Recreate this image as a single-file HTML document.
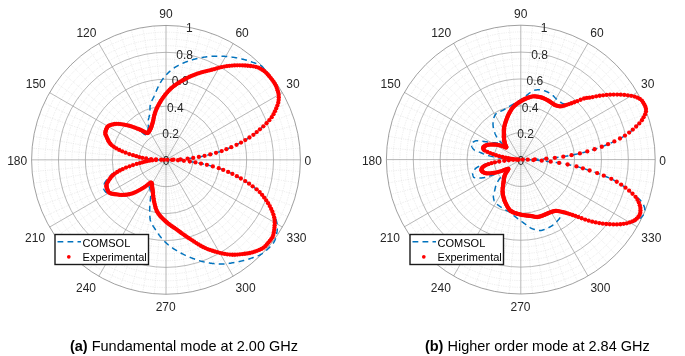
<!DOCTYPE html>
<html><head><meta charset="utf-8"><style>
html,body{margin:0;padding:0;background:#fff;}
svg{display:block;}
text{filter:grayscale(1);}
.mn{fill:none;stroke:#d8d8d8;stroke-width:0.7;stroke-dasharray:0.6 1.2;}
.mj{fill:none;stroke:#9a9a9a;stroke-width:0.7;}
.ax{fill:none;stroke:#808080;stroke-width:0.75;}
.tl{font-family:"Liberation Sans",sans-serif;font-size:12px;fill:#262626;text-anchor:middle;}
.lt{font-family:"Liberation Sans",sans-serif;font-size:11px;fill:#000;}
.bl{fill:none;stroke:#0072bd;stroke-width:1.5;stroke-dasharray:5.8 4.2;}
.rd circle{fill:#ff0000;}
.lg{fill:#fff;stroke:#1a1a1a;stroke-width:1.4;}
.cap{font-family:"Liberation Sans",sans-serif;font-size:14.5px;fill:#000;}
</style></head><body>
<svg width="685" height="356" viewBox="0 0 685 356">
<rect width="685" height="356" fill="#fff"/>
<circle cx="166" cy="159.85" r="6.72" class="mn"/>
<circle cx="166" cy="159.85" r="13.44" class="mn"/>
<circle cx="166" cy="159.85" r="20.16" class="mn"/>
<circle cx="166" cy="159.85" r="33.6" class="mn"/>
<circle cx="166" cy="159.85" r="40.32" class="mn"/>
<circle cx="166" cy="159.85" r="47.04" class="mn"/>
<circle cx="166" cy="159.85" r="60.48" class="mn"/>
<circle cx="166" cy="159.85" r="67.2" class="mn"/>
<circle cx="166" cy="159.85" r="73.92" class="mn"/>
<circle cx="166" cy="159.85" r="87.36" class="mn"/>
<circle cx="166" cy="159.85" r="94.08" class="mn"/>
<circle cx="166" cy="159.85" r="100.8" class="mn"/>
<circle cx="166" cy="159.85" r="114.24" class="mn"/>
<circle cx="166" cy="159.85" r="120.96" class="mn"/>
<circle cx="166" cy="159.85" r="127.68" class="mn"/>
<line x1="166" y1="159.85" x2="299.89" y2="148.14" class="mn"/>
<line x1="166" y1="159.85" x2="298.36" y2="136.51" class="mn"/>
<line x1="166" y1="159.85" x2="295.82" y2="125.06" class="mn"/>
<line x1="166" y1="159.85" x2="292.29" y2="113.88" class="mn"/>
<line x1="166" y1="159.85" x2="287.81" y2="103.05" class="mn"/>
<line x1="166" y1="159.85" x2="276.09" y2="82.76" class="mn"/>
<line x1="166" y1="159.85" x2="268.96" y2="73.46" class="mn"/>
<line x1="166" y1="159.85" x2="261.04" y2="64.81" class="mn"/>
<line x1="166" y1="159.85" x2="252.39" y2="56.89" class="mn"/>
<line x1="166" y1="159.85" x2="243.09" y2="49.76" class="mn"/>
<line x1="166" y1="159.85" x2="222.8" y2="38.04" class="mn"/>
<line x1="166" y1="159.85" x2="211.97" y2="33.56" class="mn"/>
<line x1="166" y1="159.85" x2="200.79" y2="30.03" class="mn"/>
<line x1="166" y1="159.85" x2="189.34" y2="27.49" class="mn"/>
<line x1="166" y1="159.85" x2="177.71" y2="25.96" class="mn"/>
<line x1="166" y1="159.85" x2="154.29" y2="25.96" class="mn"/>
<line x1="166" y1="159.85" x2="142.66" y2="27.49" class="mn"/>
<line x1="166" y1="159.85" x2="131.21" y2="30.03" class="mn"/>
<line x1="166" y1="159.85" x2="120.03" y2="33.56" class="mn"/>
<line x1="166" y1="159.85" x2="109.2" y2="38.04" class="mn"/>
<line x1="166" y1="159.85" x2="88.91" y2="49.76" class="mn"/>
<line x1="166" y1="159.85" x2="79.61" y2="56.89" class="mn"/>
<line x1="166" y1="159.85" x2="70.96" y2="64.81" class="mn"/>
<line x1="166" y1="159.85" x2="63.04" y2="73.46" class="mn"/>
<line x1="166" y1="159.85" x2="55.91" y2="82.76" class="mn"/>
<line x1="166" y1="159.85" x2="44.19" y2="103.05" class="mn"/>
<line x1="166" y1="159.85" x2="39.71" y2="113.88" class="mn"/>
<line x1="166" y1="159.85" x2="36.18" y2="125.06" class="mn"/>
<line x1="166" y1="159.85" x2="33.64" y2="136.51" class="mn"/>
<line x1="166" y1="159.85" x2="32.11" y2="148.14" class="mn"/>
<line x1="166" y1="159.85" x2="32.11" y2="171.56" class="mn"/>
<line x1="166" y1="159.85" x2="33.64" y2="183.19" class="mn"/>
<line x1="166" y1="159.85" x2="36.18" y2="194.64" class="mn"/>
<line x1="166" y1="159.85" x2="39.71" y2="205.82" class="mn"/>
<line x1="166" y1="159.85" x2="44.19" y2="216.65" class="mn"/>
<line x1="166" y1="159.85" x2="55.91" y2="236.94" class="mn"/>
<line x1="166" y1="159.85" x2="63.04" y2="246.24" class="mn"/>
<line x1="166" y1="159.85" x2="70.96" y2="254.89" class="mn"/>
<line x1="166" y1="159.85" x2="79.61" y2="262.81" class="mn"/>
<line x1="166" y1="159.85" x2="88.91" y2="269.94" class="mn"/>
<line x1="166" y1="159.85" x2="109.2" y2="281.66" class="mn"/>
<line x1="166" y1="159.85" x2="120.03" y2="286.14" class="mn"/>
<line x1="166" y1="159.85" x2="131.21" y2="289.67" class="mn"/>
<line x1="166" y1="159.85" x2="142.66" y2="292.21" class="mn"/>
<line x1="166" y1="159.85" x2="154.29" y2="293.74" class="mn"/>
<line x1="166" y1="159.85" x2="177.71" y2="293.74" class="mn"/>
<line x1="166" y1="159.85" x2="189.34" y2="292.21" class="mn"/>
<line x1="166" y1="159.85" x2="200.79" y2="289.67" class="mn"/>
<line x1="166" y1="159.85" x2="211.97" y2="286.14" class="mn"/>
<line x1="166" y1="159.85" x2="222.8" y2="281.66" class="mn"/>
<line x1="166" y1="159.85" x2="243.09" y2="269.94" class="mn"/>
<line x1="166" y1="159.85" x2="252.39" y2="262.81" class="mn"/>
<line x1="166" y1="159.85" x2="261.04" y2="254.89" class="mn"/>
<line x1="166" y1="159.85" x2="268.96" y2="246.24" class="mn"/>
<line x1="166" y1="159.85" x2="276.09" y2="236.94" class="mn"/>
<line x1="166" y1="159.85" x2="287.81" y2="216.65" class="mn"/>
<line x1="166" y1="159.85" x2="292.29" y2="205.82" class="mn"/>
<line x1="166" y1="159.85" x2="295.82" y2="194.64" class="mn"/>
<line x1="166" y1="159.85" x2="298.36" y2="183.19" class="mn"/>
<line x1="166" y1="159.85" x2="299.89" y2="171.56" class="mn"/>
<circle cx="166" cy="159.85" r="26.88" class="mj"/>
<circle cx="166" cy="159.85" r="53.76" class="mj"/>
<circle cx="166" cy="159.85" r="80.64" class="mj"/>
<circle cx="166" cy="159.85" r="107.52" class="mj"/>
<line x1="166" y1="159.85" x2="300.4" y2="159.85" class="mj"/>
<line x1="166" y1="159.85" x2="282.39" y2="92.65" class="mj"/>
<line x1="166" y1="159.85" x2="233.2" y2="43.46" class="mj"/>
<line x1="166" y1="159.85" x2="166" y2="25.45" class="mj"/>
<line x1="166" y1="159.85" x2="98.8" y2="43.46" class="mj"/>
<line x1="166" y1="159.85" x2="49.61" y2="92.65" class="mj"/>
<line x1="166" y1="159.85" x2="31.6" y2="159.85" class="mj"/>
<line x1="166" y1="159.85" x2="49.61" y2="227.05" class="mj"/>
<line x1="166" y1="159.85" x2="98.8" y2="276.24" class="mj"/>
<line x1="166" y1="159.85" x2="166" y2="294.25" class="mj"/>
<line x1="166" y1="159.85" x2="233.2" y2="276.24" class="mj"/>
<line x1="166" y1="159.85" x2="282.39" y2="227.05" class="mj"/>
<circle cx="166" cy="159.85" r="134.4" class="ax"/>
<circle cx="520.8" cy="159.6" r="6.72" class="mn"/>
<circle cx="520.8" cy="159.6" r="13.44" class="mn"/>
<circle cx="520.8" cy="159.6" r="20.16" class="mn"/>
<circle cx="520.8" cy="159.6" r="33.6" class="mn"/>
<circle cx="520.8" cy="159.6" r="40.32" class="mn"/>
<circle cx="520.8" cy="159.6" r="47.04" class="mn"/>
<circle cx="520.8" cy="159.6" r="60.48" class="mn"/>
<circle cx="520.8" cy="159.6" r="67.2" class="mn"/>
<circle cx="520.8" cy="159.6" r="73.92" class="mn"/>
<circle cx="520.8" cy="159.6" r="87.36" class="mn"/>
<circle cx="520.8" cy="159.6" r="94.08" class="mn"/>
<circle cx="520.8" cy="159.6" r="100.8" class="mn"/>
<circle cx="520.8" cy="159.6" r="114.24" class="mn"/>
<circle cx="520.8" cy="159.6" r="120.96" class="mn"/>
<circle cx="520.8" cy="159.6" r="127.68" class="mn"/>
<line x1="520.8" y1="159.6" x2="654.69" y2="147.89" class="mn"/>
<line x1="520.8" y1="159.6" x2="653.16" y2="136.26" class="mn"/>
<line x1="520.8" y1="159.6" x2="650.62" y2="124.81" class="mn"/>
<line x1="520.8" y1="159.6" x2="647.09" y2="113.63" class="mn"/>
<line x1="520.8" y1="159.6" x2="642.61" y2="102.8" class="mn"/>
<line x1="520.8" y1="159.6" x2="630.89" y2="82.51" class="mn"/>
<line x1="520.8" y1="159.6" x2="623.76" y2="73.21" class="mn"/>
<line x1="520.8" y1="159.6" x2="615.84" y2="64.56" class="mn"/>
<line x1="520.8" y1="159.6" x2="607.19" y2="56.64" class="mn"/>
<line x1="520.8" y1="159.6" x2="597.89" y2="49.51" class="mn"/>
<line x1="520.8" y1="159.6" x2="577.6" y2="37.79" class="mn"/>
<line x1="520.8" y1="159.6" x2="566.77" y2="33.31" class="mn"/>
<line x1="520.8" y1="159.6" x2="555.59" y2="29.78" class="mn"/>
<line x1="520.8" y1="159.6" x2="544.14" y2="27.24" class="mn"/>
<line x1="520.8" y1="159.6" x2="532.51" y2="25.71" class="mn"/>
<line x1="520.8" y1="159.6" x2="509.09" y2="25.71" class="mn"/>
<line x1="520.8" y1="159.6" x2="497.46" y2="27.24" class="mn"/>
<line x1="520.8" y1="159.6" x2="486.01" y2="29.78" class="mn"/>
<line x1="520.8" y1="159.6" x2="474.83" y2="33.31" class="mn"/>
<line x1="520.8" y1="159.6" x2="464" y2="37.79" class="mn"/>
<line x1="520.8" y1="159.6" x2="443.71" y2="49.51" class="mn"/>
<line x1="520.8" y1="159.6" x2="434.41" y2="56.64" class="mn"/>
<line x1="520.8" y1="159.6" x2="425.76" y2="64.56" class="mn"/>
<line x1="520.8" y1="159.6" x2="417.84" y2="73.21" class="mn"/>
<line x1="520.8" y1="159.6" x2="410.71" y2="82.51" class="mn"/>
<line x1="520.8" y1="159.6" x2="398.99" y2="102.8" class="mn"/>
<line x1="520.8" y1="159.6" x2="394.51" y2="113.63" class="mn"/>
<line x1="520.8" y1="159.6" x2="390.98" y2="124.81" class="mn"/>
<line x1="520.8" y1="159.6" x2="388.44" y2="136.26" class="mn"/>
<line x1="520.8" y1="159.6" x2="386.91" y2="147.89" class="mn"/>
<line x1="520.8" y1="159.6" x2="386.91" y2="171.31" class="mn"/>
<line x1="520.8" y1="159.6" x2="388.44" y2="182.94" class="mn"/>
<line x1="520.8" y1="159.6" x2="390.98" y2="194.39" class="mn"/>
<line x1="520.8" y1="159.6" x2="394.51" y2="205.57" class="mn"/>
<line x1="520.8" y1="159.6" x2="398.99" y2="216.4" class="mn"/>
<line x1="520.8" y1="159.6" x2="410.71" y2="236.69" class="mn"/>
<line x1="520.8" y1="159.6" x2="417.84" y2="245.99" class="mn"/>
<line x1="520.8" y1="159.6" x2="425.76" y2="254.64" class="mn"/>
<line x1="520.8" y1="159.6" x2="434.41" y2="262.56" class="mn"/>
<line x1="520.8" y1="159.6" x2="443.71" y2="269.69" class="mn"/>
<line x1="520.8" y1="159.6" x2="464" y2="281.41" class="mn"/>
<line x1="520.8" y1="159.6" x2="474.83" y2="285.89" class="mn"/>
<line x1="520.8" y1="159.6" x2="486.01" y2="289.42" class="mn"/>
<line x1="520.8" y1="159.6" x2="497.46" y2="291.96" class="mn"/>
<line x1="520.8" y1="159.6" x2="509.09" y2="293.49" class="mn"/>
<line x1="520.8" y1="159.6" x2="532.51" y2="293.49" class="mn"/>
<line x1="520.8" y1="159.6" x2="544.14" y2="291.96" class="mn"/>
<line x1="520.8" y1="159.6" x2="555.59" y2="289.42" class="mn"/>
<line x1="520.8" y1="159.6" x2="566.77" y2="285.89" class="mn"/>
<line x1="520.8" y1="159.6" x2="577.6" y2="281.41" class="mn"/>
<line x1="520.8" y1="159.6" x2="597.89" y2="269.69" class="mn"/>
<line x1="520.8" y1="159.6" x2="607.19" y2="262.56" class="mn"/>
<line x1="520.8" y1="159.6" x2="615.84" y2="254.64" class="mn"/>
<line x1="520.8" y1="159.6" x2="623.76" y2="245.99" class="mn"/>
<line x1="520.8" y1="159.6" x2="630.89" y2="236.69" class="mn"/>
<line x1="520.8" y1="159.6" x2="642.61" y2="216.4" class="mn"/>
<line x1="520.8" y1="159.6" x2="647.09" y2="205.57" class="mn"/>
<line x1="520.8" y1="159.6" x2="650.62" y2="194.39" class="mn"/>
<line x1="520.8" y1="159.6" x2="653.16" y2="182.94" class="mn"/>
<line x1="520.8" y1="159.6" x2="654.69" y2="171.31" class="mn"/>
<circle cx="520.8" cy="159.6" r="26.88" class="mj"/>
<circle cx="520.8" cy="159.6" r="53.76" class="mj"/>
<circle cx="520.8" cy="159.6" r="80.64" class="mj"/>
<circle cx="520.8" cy="159.6" r="107.52" class="mj"/>
<line x1="520.8" y1="159.6" x2="655.2" y2="159.6" class="mj"/>
<line x1="520.8" y1="159.6" x2="637.19" y2="92.4" class="mj"/>
<line x1="520.8" y1="159.6" x2="588" y2="43.21" class="mj"/>
<line x1="520.8" y1="159.6" x2="520.8" y2="25.2" class="mj"/>
<line x1="520.8" y1="159.6" x2="453.6" y2="43.21" class="mj"/>
<line x1="520.8" y1="159.6" x2="404.41" y2="92.4" class="mj"/>
<line x1="520.8" y1="159.6" x2="386.4" y2="159.6" class="mj"/>
<line x1="520.8" y1="159.6" x2="404.41" y2="226.8" class="mj"/>
<line x1="520.8" y1="159.6" x2="453.6" y2="275.99" class="mj"/>
<line x1="520.8" y1="159.6" x2="520.8" y2="294" class="mj"/>
<line x1="520.8" y1="159.6" x2="588" y2="275.99" class="mj"/>
<line x1="520.8" y1="159.6" x2="637.19" y2="226.8" class="mj"/>
<circle cx="520.8" cy="159.6" r="134.4" class="ax"/>
<text x="307.9" y="164.8" class="tl">0</text>
<text x="293" y="87.6" class="tl">30</text>
<text x="242.1" y="36.9" class="tl">60</text>
<text x="166" y="18.3" class="tl">90</text>
<text x="86.4" y="36.9" class="tl">120</text>
<text x="35.75" y="87.6" class="tl">150</text>
<text x="17.15" y="164.8" class="tl">180</text>
<text x="35.1" y="241.6" class="tl">210</text>
<text x="86" y="292.3" class="tl">240</text>
<text x="165.7" y="310.9" class="tl">270</text>
<text x="245.6" y="292.1" class="tl">300</text>
<text x="296.5" y="241.6" class="tl">330</text>
<text x="166" y="164.85" class="tl">0</text>
<text x="170.67" y="138.38" class="tl">0.2</text>
<text x="175.34" y="111.91" class="tl">0.4</text>
<text x="180" y="85.44" class="tl">0.6</text>
<text x="184.67" y="58.96" class="tl">0.8</text>
<text x="189.34" y="32.49" class="tl">1</text>
<text x="662.7" y="164.8" class="tl">0</text>
<text x="647.8" y="87.6" class="tl">30</text>
<text x="596.9" y="36.9" class="tl">60</text>
<text x="520.8" y="18.3" class="tl">90</text>
<text x="441.2" y="36.9" class="tl">120</text>
<text x="390.55" y="87.6" class="tl">150</text>
<text x="371.95" y="164.8" class="tl">180</text>
<text x="389.9" y="241.6" class="tl">210</text>
<text x="440.8" y="292.3" class="tl">240</text>
<text x="520.5" y="310.9" class="tl">270</text>
<text x="600.4" y="292.1" class="tl">300</text>
<text x="651.3" y="241.6" class="tl">330</text>
<text x="520.8" y="164.6" class="tl">0</text>
<text x="525.47" y="138.13" class="tl">0.2</text>
<text x="530.14" y="111.66" class="tl">0.4</text>
<text x="534.8" y="85.19" class="tl">0.6</text>
<text x="539.47" y="58.71" class="tl">0.8</text>
<text x="544.14" y="32.24" class="tl">1</text>
<path d="M167.5,159.85 L168.13,159.84 L169.69,159.82 L171.65,159.78 L173.5,159.72 L175.17,159.65 L176.92,159.56 L178.71,159.46 L180.49,159.34 L182.29,159.21 L184.12,159.06 L185.91,158.89 L187.57,158.72 L189.08,158.54 L190.48,158.35 L191.85,158.16 L193.23,157.95 L194.64,157.72 L196.05,157.48 L197.46,157.24 L198.87,156.97 L200.3,156.7 L201.73,156.41 L203.16,156.11 L204.59,155.79 L206.01,155.47 L207.43,155.13 L208.84,154.78 L210.27,154.41 L211.7,154.04 L213.14,153.64 L214.57,153.24 L216.01,152.82 L217.46,152.39 L218.93,151.94 L220.36,151.48 L221.71,151.03 L222.93,150.58 L224.08,150.13 L225.21,149.68 L226.37,149.21 L227.57,148.72 L228.79,148.21 L230.02,147.7 L231.28,147.16 L232.58,146.61 L233.93,146.03 L235.26,145.44 L236.52,144.86 L237.71,144.28 L238.84,143.7 L239.94,143.12 L241.03,142.53 L242.11,141.93 L243.17,141.32 L244.22,140.71 L245.27,140.08 L246.33,139.45 L247.39,138.8 L248.43,138.15 L249.46,137.49 L250.47,136.82 L251.47,136.15 L252.44,135.47 L253.38,134.79 L254.26,134.12 L255.11,133.45 L255.94,132.78 L256.75,132.1 L257.54,131.43 L258.3,130.75 L259.07,130.06 L259.87,129.35 L260.73,128.61 L261.63,127.85 L262.52,127.08 L263.39,126.32 L264.22,125.55 L265.02,124.78 L265.81,124.02 L266.55,123.25 L267.26,122.49 L267.97,121.73 L268.65,120.96 L269.32,120.19 L269.96,119.42 L270.58,118.66 L271.16,117.9 L271.7,117.14 L272.2,116.4 L272.67,115.67 L273.11,114.94 L273.52,114.21 L273.91,113.49 L274.28,112.77 L274.63,112.05 L274.96,111.34 L275.28,110.62 L275.6,109.9 L275.9,109.19 L276.2,108.46 L276.5,107.73 L276.8,107 L277.09,106.27 L277.37,105.53 L277.62,104.8 L277.86,104.08 L278.07,103.36 L278.25,102.65 L278.4,101.96 L278.51,101.28 L278.59,100.61 L278.65,99.95 L278.71,99.29 L278.75,98.63 L278.77,97.98 L278.78,97.33 L278.78,96.69 L278.76,96.06 L278.72,95.43 L278.66,94.81 L278.58,94.2 L278.47,93.6 L278.35,93.01 L278.2,92.43 L278.04,91.86 L277.88,91.29 L277.71,90.72 L277.53,90.16 L277.35,89.59 L277.17,89.03 L276.97,88.47 L276.77,87.91 L276.56,87.36 L276.34,86.82 L276.11,86.27 L275.87,85.74 L275.62,85.21 L275.36,84.69 L275.09,84.17 L274.8,83.67 L274.5,83.17 L274.19,82.68 L273.86,82.2 L273.52,81.73 L273.17,81.27 L272.83,80.8 L272.48,80.34 L272.13,79.88 L271.77,79.42 L271.41,78.96 L271.05,78.51 L270.69,78.06 L270.33,77.61 L269.96,77.16 L269.59,76.71 L269.22,76.26 L268.85,75.82 L268.48,75.37 L268.11,74.93 L267.73,74.49 L267.36,74.04 L266.98,73.6 L266.63,73.14 L266.3,72.66 L265.99,72.17 L265.68,71.66 L265.39,71.14 L265.1,70.62 L264.8,70.1 L264.51,69.59 L264.2,69.08 L263.88,68.58 L263.54,68.09 L263.18,67.63 L262.8,67.19 L262.38,66.77 L261.94,66.39 L261.48,66.03 L260.99,65.69 L260.48,65.37 L259.95,65.07 L259.41,64.8 L258.85,64.53 L258.28,64.29 L257.71,64.05 L257.12,63.83 L256.53,63.62 L255.93,63.41 L255.33,63.21 L254.74,63.01 L254.14,62.81 L253.55,62.61 L252.97,62.41 L252.39,62.21 L251.82,61.99 L251.25,61.78 L250.68,61.57 L250.11,61.37 L249.54,61.17 L248.96,60.98 L248.39,60.79 L247.81,60.61 L247.23,60.43 L246.65,60.26 L246.07,60.09 L245.49,59.92 L244.9,59.76 L244.32,59.61 L243.74,59.45 L243.15,59.3 L242.57,59.16 L241.99,59.01 L241.4,58.87 L240.82,58.74 L240.24,58.6 L239.66,58.47 L239.07,58.35 L238.49,58.22 L237.91,58.1 L237.32,57.99 L236.74,57.88 L236.16,57.77 L235.57,57.67 L234.99,57.57 L234.41,57.47 L233.82,57.38 L233.24,57.29 L232.66,57.21 L232.07,57.13 L231.49,57.05 L230.91,56.97 L230.33,56.9 L229.75,56.83 L229.17,56.76 L228.59,56.7 L228.02,56.64 L227.44,56.58 L226.86,56.53 L226.28,56.48 L225.71,56.43 L225.13,56.39 L224.56,56.35 L223.98,56.31 L223.41,56.28 L222.84,56.25 L222.27,56.22 L221.69,56.2 L221.12,56.18 L220.55,56.16 L219.98,56.15 L219.41,56.14 L218.85,56.14 L218.28,56.13 L217.71,56.13 L217.15,56.14 L216.58,56.15 L216.02,56.16 L215.45,56.17 L214.89,56.19 L214.33,56.21 L213.77,56.23 L213.21,56.26 L212.65,56.29 L212.09,56.32 L211.54,56.36 L210.98,56.4 L210.43,56.44 L209.88,56.49 L209.32,56.54 L208.77,56.59 L208.22,56.64 L207.67,56.7 L207.13,56.77 L206.58,56.83 L206.04,56.9 L205.49,56.97 L204.95,57.05 L204.41,57.12 L203.87,57.2 L203.33,57.29 L202.79,57.38 L202.26,57.47 L201.72,57.56 L201.19,57.66 L200.66,57.76 L200.13,57.86 L199.6,57.96 L199.07,58.07 L198.54,58.18 L198.02,58.3 L197.5,58.41 L196.98,58.53 L196.46,58.66 L195.94,58.78 L195.42,58.91 L194.91,59.05 L194.39,59.18 L193.88,59.32 L193.37,59.46 L192.86,59.61 L192.35,59.76 L191.85,59.91 L191.34,60.06 L190.84,60.22 L190.34,60.38 L189.84,60.55 L189.34,60.72 L188.85,60.89 L188.35,61.06 L187.86,61.24 L187.37,61.43 L186.88,61.61 L186.4,61.79 L185.91,61.98 L185.43,62.17 L184.95,62.36 L184.47,62.55 L184,62.75 L183.52,62.95 L183.05,63.15 L182.58,63.35 L182.11,63.56 L181.65,63.77 L181.18,63.99 L180.72,64.2 L180.26,64.43 L179.8,64.65 L179.35,64.88 L178.89,65.12 L178.44,65.36 L177.99,65.6 L177.54,65.85 L177.1,66.1 L176.65,66.36 L176.21,66.62 L175.77,66.89 L175.33,67.17 L174.9,67.45 L174.46,67.74 L174.03,68.03 L173.6,68.33 L173.18,68.64 L172.75,68.95 L172.33,69.27 L171.92,69.6 L171.5,69.93 L171.09,70.27 L170.68,70.61 L170.27,70.96 L169.87,71.31 L169.46,71.67 L169.07,72.04 L168.67,72.41 L168.28,72.79 L167.89,73.17 L167.51,73.55 L167.12,73.94 L166.75,74.34 L166.37,74.74 L166,75.15 L165.63,75.56 L165.27,75.97 L164.91,76.39 L164.55,76.81 L164.2,77.24 L163.85,77.67 L163.5,78.1 L163.16,78.54 L162.82,78.98 L162.49,79.43 L162.16,79.88 L161.83,80.34 L161.51,80.82 L161.2,81.31 L160.88,81.8 L160.58,82.31 L160.28,82.82 L159.98,83.34 L159.69,83.87 L159.4,84.4 L159.12,84.94 L158.84,85.48 L158.57,86.03 L158.3,86.58 L158.04,87.13 L157.78,87.68 L157.52,88.23 L157.27,88.78 L157.03,89.33 L156.79,89.88 L156.55,90.42 L156.32,90.97 L156.09,91.5 L155.86,92.03 L155.64,92.56 L155.42,93.08 L155.21,93.59 L155,94.09 L154.79,94.59 L154.58,95.07 L154.37,95.55 L154.17,96.01 L153.97,96.46 L153.76,96.9 L153.56,97.32 L153.36,97.72 L153.16,98.11 L152.96,98.49 L152.76,98.87 L152.56,99.23 L152.37,99.6 L152.17,99.96 L151.98,100.32 L151.8,100.69 L151.61,101.06 L151.44,101.44 L151.26,101.82 L151.1,102.22 L150.93,102.63 L150.78,103.05 L150.64,103.5 L150.5,103.96 L150.37,104.44 L150.26,104.95 L150.17,105.52 L150.1,106.16 L150.04,106.83 L150.01,107.55 L149.99,108.28 L149.97,109.02 L149.97,109.76 L149.96,110.49 L149.95,111.18 L149.93,111.84 L149.91,112.44 L149.86,112.98 L149.8,113.45 L149.73,113.89 L149.65,114.32 L149.58,114.73 L149.5,115.12 L149.42,115.5 L149.34,115.87 L149.25,116.22 L149.17,116.57 L149.08,116.9 L149,117.23 L148.91,117.56 L148.83,117.88 L148.74,118.19 L148.66,118.51 L148.59,118.83 L148.51,119.14 L148.44,119.47 L148.37,119.79 L148.31,120.12 L148.26,120.46 L148.21,120.81 L148.17,121.17 L148.14,121.54 L148.11,121.93 L148.11,122.33 L148.11,122.76 L148.13,123.21 L148.16,123.67 L148.2,124.14 L148.24,124.61 L148.28,125.07 L148.32,125.53 L148.36,125.96 L148.39,126.37 L148.41,126.76 L148.41,127.11 L148.4,127.43 L148.36,127.7 L148.33,127.97 L148.29,128.23 L148.26,128.49 L148.22,128.74 L148.18,128.98 L148.14,129.22 L148.1,129.45 L148.05,129.68 L148,129.9 L147.96,130.11 L147.9,130.32 L147.85,130.52 L147.8,130.72 L147.74,130.91 L147.68,131.09 L147.62,131.27 L147.55,131.44 L147.49,131.61 L147.42,131.77 L147.34,131.93 L147.27,132.08 L147.19,132.22 L147.11,132.37 L147.04,132.52 L146.96,132.66 L146.89,132.81 L146.81,132.95 L146.74,133.09 L146.66,133.23 L146.59,133.37 L146.51,133.51 L146.43,133.64 L146.35,133.77 L146.26,133.9 L146.18,134.02 L146.09,134.14 L146,134.25 L145.91,134.36 L145.81,134.47 L145.71,134.57 L145.61,134.67 L145.5,134.76 L145.31,134.75 L145.01,134.61 L144.62,134.36 L144.14,134.02 L143.59,133.61 L142.98,133.13 L142.32,132.61 L141.63,132.07 L140.93,131.51 L140.21,130.95 L139.5,130.42 L138.81,129.92 L138.16,129.47 L137.55,129.08 L137.02,128.77 L136.52,128.51 L136.03,128.26 L135.54,128.03 L135.06,127.81 L134.59,127.61 L134.12,127.41 L133.66,127.23 L133.2,127.05 L132.75,126.89 L132.29,126.73 L131.84,126.58 L131.4,126.43 L130.95,126.3 L130.51,126.17 L130.06,126.04 L129.62,125.92 L129.17,125.8 L128.72,125.69 L128.27,125.58 L127.82,125.47 L127.36,125.37 L126.9,125.26 L126.44,125.16 L125.97,125.05 L125.49,124.95 L125.01,124.84 L124.53,124.74 L124.04,124.64 L123.55,124.55 L123.06,124.45 L122.57,124.36 L122.08,124.28 L121.58,124.2 L121.09,124.13 L120.61,124.06 L120.12,124.01 L119.64,123.95 L119.16,123.91 L118.69,123.88 L118.22,123.85 L117.77,123.83 L117.31,123.82 L116.87,123.83 L116.44,123.84 L116.01,123.87 L115.6,123.9 L115.2,123.95 L114.81,124.01 L114.44,124.08 L114.07,124.16 L113.69,124.23 L113.31,124.31 L112.93,124.39 L112.55,124.47 L112.17,124.56 L111.79,124.64 L111.41,124.74 L111.05,124.84 L110.68,124.95 L110.33,125.06 L109.99,125.19 L109.65,125.32 L109.33,125.46 L109.02,125.61 L108.73,125.78 L108.45,125.95 L108.19,126.14 L107.96,126.34 L107.74,126.55 L107.54,126.78 L107.37,127.02 L107.23,127.27 L107.09,127.53 L106.95,127.79 L106.82,128.05 L106.7,128.32 L106.58,128.59 L106.46,128.85 L106.35,129.13 L106.24,129.4 L106.13,129.67 L106.03,129.95 L105.93,130.23 L105.84,130.51 L105.75,130.79 L105.66,131.07 L105.58,131.36 L105.5,131.64 L105.43,131.93 L105.36,132.21 L105.29,132.5 L105.25,132.8 L105.25,133.12 L105.28,133.45 L105.34,133.79 L105.43,134.14 L105.54,134.5 L105.67,134.86 L105.81,135.23 L105.97,135.6 L106.14,135.97 L106.32,136.34 L106.49,136.71 L106.66,137.07 L106.83,137.43 L106.99,137.79 L107.14,138.14 L107.29,138.48 L107.44,138.82 L107.59,139.17 L107.74,139.51 L107.9,139.85 L108.06,140.18 L108.23,140.52 L108.4,140.86 L108.59,141.2 L108.78,141.53 L108.98,141.87 L109.19,142.21 L109.42,142.55 L109.66,142.89 L109.91,143.24 L110.18,143.58 L110.47,143.93 L110.78,144.28 L111.1,144.63 L111.45,144.98 L111.85,145.34 L112.29,145.71 L112.77,146.08 L113.29,146.46 L113.84,146.84 L114.42,147.23 L115.04,147.61 L115.68,148 L116.34,148.39 L117.03,148.77 L117.73,149.15 L118.45,149.53 L119.19,149.9 L119.93,150.27 L120.68,150.63 L121.44,150.99 L122.2,151.34 L122.96,151.68 L123.78,152.02 L124.63,152.37 L125.53,152.71 L126.45,153.05 L127.39,153.39 L128.34,153.72 L129.3,154.04 L130.25,154.35 L131.19,154.65 L132.12,154.94 L133.01,155.21 L133.87,155.48 L134.69,155.73 L135.48,155.97 L136.25,156.2 L136.99,156.42 L137.73,156.63 L138.46,156.83 L139.2,157.03 L139.95,157.23 L140.71,157.42 L141.5,157.6 L142.32,157.78 L143.19,157.95 L144.09,158.13 L145.06,158.29 L146.12,158.46 L147.28,158.62 L148.51,158.78 L149.78,158.93 L151.08,159.07 L152.38,159.2 L153.65,159.31 L154.87,159.41 L156.01,159.5 L157.19,159.58 L158.49,159.65 L159.82,159.72 L161.1,159.76 L162.24,159.8 L163.16,159.83 L163.78,159.84 L164,159.85 L162.42,159.87 L159.34,159.91 L157.23,159.96 L156,160.02 L154.91,160.09 L153.95,160.17 L153.1,160.24 L152.32,160.33 L151.62,160.42 L150.95,160.51 L150.3,160.6 L149.65,160.71 L148.97,160.82 L148.28,160.93 L147.63,161.05 L147.01,161.18 L146.42,161.31 L145.85,161.44 L145.3,161.57 L144.76,161.71 L144.22,161.85 L143.67,162 L143.12,162.15 L142.55,162.31 L141.96,162.48 L141.34,162.66 L140.69,162.85 L140,163.04 L139.26,163.25 L138.49,163.47 L137.69,163.7 L136.85,163.95 L135.98,164.2 L135.09,164.47 L134.17,164.75 L133.23,165.04 L132.26,165.34 L131.28,165.66 L130.23,166 L129.07,166.36 L127.84,166.75 L126.55,167.16 L125.23,167.59 L123.91,168.03 L122.61,168.48 L121.37,168.93 L120.19,169.38 L119.12,169.81 L118.18,170.23 L117.38,170.63 L116.69,171.01 L116.03,171.39 L115.4,171.77 L114.8,172.14 L114.23,172.52 L113.69,172.89 L113.18,173.26 L112.69,173.64 L112.22,174.01 L111.78,174.38 L111.35,174.75 L110.94,175.12 L110.55,175.49 L110.18,175.86 L109.81,176.23 L109.46,176.6 L109.12,176.97 L108.79,177.34 L108.46,177.72 L108.14,178.09 L107.82,178.47 L107.51,178.85 L107.21,179.24 L106.91,179.62 L106.61,180.01 L106.33,180.4 L106.05,180.78 L105.79,181.17 L105.53,181.56 L105.29,181.95 L105.06,182.33 L104.84,182.72 L104.64,183.1 L104.45,183.48 L104.28,183.85 L104.13,184.22 L104,184.59 L103.88,184.95 L103.78,185.3 L103.71,185.65 L103.65,186 L103.59,186.34 L103.53,186.69 L103.48,187.03 L103.45,187.37 L103.43,187.71 L103.44,188.03 L103.47,188.35 L103.54,188.64 L103.65,188.93 L103.78,189.2 L103.92,189.46 L104.07,189.72 L104.22,189.98 L104.38,190.24 L104.55,190.49 L104.73,190.73 L104.91,190.98 L105.1,191.22 L105.29,191.45 L105.49,191.69 L105.69,191.92 L105.89,192.15 L106.1,192.37 L106.31,192.6 L106.53,192.82 L106.75,193.03 L107,193.23 L107.27,193.42 L107.56,193.59 L107.87,193.75 L108.2,193.9 L108.54,194.03 L108.9,194.16 L109.27,194.27 L109.66,194.38 L110.05,194.47 L110.45,194.56 L110.86,194.64 L111.28,194.71 L111.7,194.77 L112.13,194.83 L112.56,194.89 L112.99,194.94 L113.42,194.98 L113.85,195.02 L114.28,195.07 L114.7,195.11 L115.12,195.15 L115.53,195.19 L115.94,195.23 L116.34,195.27 L116.73,195.32 L117.12,195.36 L117.52,195.4 L117.91,195.44 L118.3,195.47 L118.69,195.5 L119.09,195.52 L119.48,195.55 L119.87,195.57 L120.26,195.58 L120.66,195.6 L121.05,195.6 L121.45,195.61 L121.84,195.61 L122.24,195.61 L122.63,195.6 L123.03,195.59 L123.43,195.57 L123.83,195.55 L124.23,195.53 L124.63,195.5 L125.03,195.46 L125.44,195.42 L125.84,195.38 L126.25,195.33 L126.66,195.27 L127.07,195.21 L127.48,195.15 L127.89,195.08 L128.31,195 L128.72,194.92 L129.14,194.83 L129.56,194.73 L129.98,194.63 L130.4,194.53 L130.83,194.41 L131.26,194.29 L131.69,194.16 L132.15,194 L132.61,193.83 L133.08,193.64 L133.56,193.44 L134.05,193.23 L134.54,193 L135.03,192.77 L135.53,192.53 L136.03,192.28 L136.52,192.02 L137.02,191.76 L137.5,191.5 L137.99,191.24 L138.46,190.97 L138.93,190.72 L139.39,190.46 L139.84,190.21 L140.27,189.97 L140.7,189.74 L141.1,189.52 L141.5,189.31 L141.87,189.12 L142.23,188.94 L142.58,188.78 L142.93,188.6 L143.28,188.41 L143.63,188.22 L143.99,188.03 L144.34,187.83 L144.68,187.63 L145.03,187.43 L145.36,187.24 L145.69,187.05 L146,186.88 L146.31,186.71 L146.6,186.55 L146.88,186.42 L147.14,186.29 L147.38,186.19 L147.61,186.11 L147.82,186.06 L148.01,186.03 L148.18,186.03 L148.32,186.06 L148.44,186.12 L148.55,186.21 L148.66,186.3 L148.76,186.39 L148.86,186.5 L148.95,186.61 L149.04,186.73 L149.12,186.86 L149.2,186.99 L149.28,187.14 L149.35,187.28 L149.42,187.44 L149.49,187.6 L149.56,187.77 L149.62,187.94 L149.68,188.12 L149.74,188.31 L149.79,188.5 L149.85,188.7 L149.9,188.9 L149.95,189.11 L150,189.32 L150.05,189.54 L150.09,189.76 L150.14,189.99 L150.19,190.23 L150.23,190.46 L150.28,190.7 L150.32,190.95 L150.37,191.2 L150.42,191.45 L150.46,191.71 L150.51,191.97 L150.55,192.23 L150.6,192.5 L150.65,192.77 L150.7,193.04 L150.74,193.34 L150.76,193.68 L150.77,194.06 L150.76,194.47 L150.75,194.93 L150.72,195.41 L150.69,195.92 L150.65,196.47 L150.6,197.04 L150.54,197.64 L150.48,198.26 L150.42,198.9 L150.35,199.57 L150.29,200.25 L150.22,200.95 L150.16,201.67 L150.09,202.4 L150.03,203.14 L149.97,203.89 L149.92,204.65 L149.87,205.41 L149.82,206.17 L149.79,206.94 L149.75,207.71 L149.73,208.47 L149.72,209.23 L149.71,209.98 L149.71,210.73 L149.73,211.46 L149.75,212.18 L149.78,212.9 L149.81,213.65 L149.83,214.44 L149.85,215.26 L149.87,216.09 L149.91,216.91 L149.96,217.7 L150.02,218.46 L150.11,219.16 L150.22,219.8 L150.35,220.35 L150.5,220.87 L150.66,221.36 L150.83,221.84 L151.01,222.29 L151.19,222.73 L151.39,223.15 L151.58,223.56 L151.79,223.96 L152,224.34 L152.21,224.71 L152.43,225.07 L152.66,225.43 L152.88,225.78 L153.12,226.13 L153.35,226.48 L153.59,226.82 L153.83,227.17 L154.07,227.52 L154.31,227.87 L154.56,228.23 L154.8,228.6 L155.05,228.98 L155.3,229.36 L155.55,229.76 L155.81,230.15 L156.06,230.55 L156.32,230.95 L156.59,231.35 L156.85,231.75 L157.12,232.16 L157.39,232.56 L157.67,232.96 L157.95,233.37 L158.23,233.77 L158.52,234.17 L158.8,234.57 L159.1,234.98 L159.39,235.38 L159.69,235.77 L159.99,236.17 L160.3,236.57 L160.61,236.96 L160.92,237.35 L161.24,237.74 L161.56,238.13 L161.88,238.51 L162.2,238.89 L162.53,239.27 L162.86,239.64 L163.2,240.02 L163.54,240.38 L163.88,240.74 L164.23,241.1 L164.58,241.45 L164.93,241.8 L165.28,242.15 L165.64,242.49 L166,242.82 L166.36,243.15 L166.73,243.48 L167.1,243.8 L167.47,244.12 L167.85,244.43 L168.22,244.75 L168.6,245.05 L168.99,245.36 L169.37,245.66 L169.76,245.96 L170.15,246.26 L170.54,246.55 L170.94,246.84 L171.34,247.13 L171.74,247.41 L172.14,247.7 L172.55,247.98 L172.96,248.26 L173.37,248.54 L173.78,248.81 L174.2,249.09 L174.62,249.36 L175.04,249.63 L175.46,249.9 L175.89,250.17 L176.32,250.44 L176.75,250.7 L177.19,250.97 L177.63,251.23 L178.06,251.49 L178.51,251.75 L178.95,252 L179.4,252.25 L179.85,252.5 L180.3,252.75 L180.75,252.99 L181.21,253.24 L181.67,253.48 L182.13,253.71 L182.59,253.95 L183.06,254.18 L183.53,254.41 L184,254.64 L184.47,254.87 L184.95,255.09 L185.42,255.32 L185.9,255.54 L186.39,255.76 L186.87,255.97 L187.36,256.19 L187.85,256.4 L188.34,256.61 L188.83,256.82 L189.33,257.03 L189.83,257.23 L190.33,257.44 L190.83,257.64 L191.34,257.84 L191.85,258.04 L192.36,258.24 L192.88,258.43 L193.39,258.63 L193.91,258.83 L194.44,259.02 L194.96,259.21 L195.49,259.4 L196.02,259.58 L196.55,259.77 L197.08,259.95 L197.62,260.13 L198.16,260.31 L198.7,260.48 L199.24,260.65 L199.78,260.81 L200.33,260.98 L200.88,261.13 L201.42,261.29 L201.98,261.44 L202.53,261.59 L203.08,261.73 L203.64,261.87 L204.19,262 L204.75,262.13 L205.31,262.25 L205.87,262.37 L206.43,262.48 L206.99,262.59 L207.55,262.69 L208.12,262.79 L208.68,262.89 L209.25,262.98 L209.81,263.07 L210.38,263.16 L210.96,263.24 L211.53,263.32 L212.1,263.39 L212.67,263.46 L213.25,263.53 L213.83,263.59 L214.4,263.65 L214.98,263.71 L215.56,263.76 L216.14,263.8 L216.72,263.84 L217.3,263.88 L217.88,263.91 L218.46,263.93 L219.04,263.95 L219.62,263.97 L220.21,263.98 L220.79,263.98 L221.37,263.98 L221.95,263.98 L222.53,263.96 L223.11,263.95 L223.69,263.92 L224.27,263.89 L224.84,263.86 L225.42,263.81 L225.99,263.76 L226.57,263.71 L227.14,263.64 L227.71,263.57 L228.28,263.5 L228.85,263.42 L229.41,263.33 L229.98,263.24 L230.55,263.15 L231.12,263.05 L231.68,262.95 L232.25,262.85 L232.82,262.75 L233.39,262.64 L233.97,262.54 L234.54,262.43 L235.12,262.32 L235.69,262.21 L236.27,262.1 L236.86,261.99 L237.44,261.87 L238.02,261.76 L238.61,261.64 L239.19,261.52 L239.78,261.4 L240.36,261.27 L240.95,261.14 L241.54,261.01 L242.13,260.87 L242.71,260.73 L243.3,260.59 L243.89,260.45 L244.48,260.3 L245.06,260.14 L245.65,259.99 L246.24,259.82 L246.82,259.66 L247.4,259.48 L247.99,259.31 L248.57,259.13 L249.15,258.94 L249.72,258.75 L250.3,258.55 L250.87,258.35 L251.46,258.16 L252.04,257.96 L252.63,257.76 L253.22,257.57 L253.81,257.37 L254.4,257.17 L254.99,256.96 L255.57,256.75 L256.16,256.54 L256.74,256.31 L257.32,256.08 L257.9,255.85 L258.47,255.6 L259.03,255.35 L259.58,255.08 L260.13,254.8 L260.67,254.52 L261.19,254.21 L261.71,253.9 L262.21,253.57 L262.7,253.23 L263.17,252.87 L263.64,252.51 L264.1,252.14 L264.57,251.77 L265.03,251.39 L265.49,251.01 L265.94,250.63 L266.39,250.24 L266.84,249.85 L267.29,249.46 L267.73,249.06 L268.17,248.66 L268.6,248.25 L269.03,247.84 L269.45,247.43 L269.87,247.01 L270.28,246.58 L270.69,246.15 L271.09,245.71 L271.49,245.27 L271.88,244.83 L272.26,244.38 L272.64,243.92 L273.01,243.46 L273.37,242.99 L273.71,242.5 L274.02,241.99 L274.31,241.47 L274.58,240.93 L274.83,240.38 L275.06,239.81 L275.27,239.24 L275.47,238.65 L275.65,238.06 L275.81,237.46 L275.97,236.85 L276.12,236.24 L276.25,235.62 L276.38,235 L276.5,234.38 L276.62,233.76 L276.73,233.14 L276.84,232.52 L276.96,231.91 L277.06,231.29 L277.14,230.66 L277.21,230.02 L277.26,229.37 L277.29,228.72 L277.3,228.06 L277.3,227.39 L277.28,226.71 L277.24,226.03 L277.19,225.35 L277.12,224.66 L277.04,223.96 L276.95,223.26 L276.83,222.55 L276.67,221.83 L276.48,221.09 L276.25,220.34 L276,219.57 L275.72,218.8 L275.42,218.03 L275.09,217.25 L274.76,216.46 L274.4,215.68 L274.04,214.9 L273.67,214.12 L273.3,213.35 L272.92,212.58 L272.55,211.82 L272.18,211.07 L271.83,210.33 L271.48,209.6 L271.14,208.88 L270.8,208.16 L270.45,207.45 L270.1,206.74 L269.73,206.03 L269.35,205.33 L268.95,204.62 L268.53,203.9 L268.09,203.19 L267.63,202.47 L267.16,201.75 L266.67,201.04 L266.18,200.32 L265.67,199.62 L265.17,198.91 L264.66,198.22 L264.15,197.53 L263.65,196.85 L263.15,196.17 L262.63,195.5 L262.09,194.82 L261.52,194.15 L260.92,193.46 L260.3,192.78 L259.65,192.09 L258.96,191.41 L258.24,190.71 L257.46,190.01 L256.61,189.29 L255.64,188.54 L254.6,187.79 L253.56,187.04 L252.61,186.33 L251.71,185.64 L250.83,184.98 L249.96,184.32 L249.05,183.67 L248.12,183.01 L247.18,182.36 L246.21,181.72 L245.21,181.07 L244.14,180.42 L243.02,179.77 L241.91,179.13 L240.85,178.51 L239.84,177.92 L238.86,177.34 L237.86,176.77 L236.84,176.2 L235.76,175.63 L234.64,175.07 L233.52,174.51 L232.42,173.97 L231.35,173.44 L230.31,172.93 L229.25,172.43 L228.14,171.93 L226.94,171.42 L225.69,170.91 L224.43,170.42 L223.22,169.94 L222.1,169.49 L221.03,169.06 L219.94,168.63 L218.74,168.2 L217.38,167.76 L215.89,167.31 L214.36,166.86 L212.84,166.43 L211.35,166.02 L209.87,165.62 L208.38,165.24 L206.89,164.87 L205.41,164.51 L203.92,164.17 L202.45,163.84 L201.01,163.53 L199.61,163.23 L198.23,162.95 L196.87,162.69 L195.49,162.43 L194.09,162.18 L192.69,161.95 L191.28,161.73 L189.84,161.52 L188.37,161.32 L186.87,161.13 L185.37,160.95 L183.88,160.79 L182.4,160.64 L180.94,160.5 L179.47,160.38 L177.99,160.27 L176.46,160.17 L174.9,160.08 L173.38,160.01 L172,159.95 L170.57,159.91 L169.11,159.88 L167.96,159.86 Z" class="bl"/>
<g class="rd"><circle cx="167.5" cy="159.85" r="2.15"/><circle cx="173.5" cy="159.72" r="2.15"/><circle cx="180.49" cy="159.34" r="2.15"/><circle cx="187.57" cy="158.72" r="2.15"/><circle cx="193.23" cy="157.95" r="2.15"/><circle cx="198.87" cy="156.97" r="2.15"/><circle cx="204.59" cy="155.79" r="2.15"/><circle cx="210.27" cy="154.41" r="2.15"/><circle cx="216.01" cy="152.82" r="2.15"/><circle cx="221.71" cy="151.03" r="2.15"/><circle cx="226.37" cy="149.21" r="2.15"/><circle cx="231.28" cy="147.16" r="2.15"/><circle cx="236.52" cy="144.86" r="2.15"/><circle cx="241.03" cy="142.53" r="2.15"/><circle cx="245.27" cy="140.08" r="2.15"/><circle cx="249.46" cy="137.49" r="2.15"/><circle cx="253.38" cy="134.79" r="2.15"/><circle cx="256.75" cy="132.1" r="2.15"/><circle cx="259.87" cy="129.35" r="2.15"/><circle cx="263.39" cy="126.32" r="2.15"/><circle cx="266.55" cy="123.25" r="2.15"/><circle cx="269.32" cy="120.19" r="2.15"/><circle cx="271.7" cy="117.14" r="2.15"/><circle cx="273.52" cy="114.21" r="2.15"/><circle cx="274.96" cy="111.34" r="2.15"/><circle cx="276.2" cy="108.46" r="2.15"/><circle cx="277.37" cy="105.53" r="2.15"/><circle cx="278.25" cy="102.65" r="2.15"/><circle cx="278.65" cy="99.95" r="2.15"/><circle cx="278.78" cy="97.33" r="2.15"/><circle cx="278.66" cy="94.81" r="2.15"/><circle cx="278.2" cy="92.43" r="2.15"/><circle cx="277.53" cy="90.16" r="2.15"/><circle cx="276.77" cy="87.91" r="2.15"/><circle cx="275.87" cy="85.74" r="2.15"/><circle cx="274.8" cy="83.67" r="2.15"/><circle cx="273.52" cy="81.73" r="2.15"/><circle cx="272.13" cy="79.87" r="2.15"/><circle cx="270.71" cy="78.04" r="2.15"/><circle cx="269.24" cy="76.24" r="2.15"/><circle cx="267.74" cy="74.48" r="2.15"/><circle cx="266.17" cy="72.78" r="2.15"/><circle cx="264.38" cy="71.27" r="2.15"/><circle cx="262.43" cy="69.93" r="2.15"/><circle cx="260.36" cy="68.72" r="2.15"/><circle cx="258.24" cy="67.61" r="2.15"/><circle cx="255.86" cy="66.8" r="2.15"/><circle cx="253.23" cy="66.31" r="2.15"/><circle cx="250.5" cy="66" r="2.15"/><circle cx="247.78" cy="65.77" r="2.15"/><circle cx="245.15" cy="65.52" r="2.15"/><circle cx="242.5" cy="65.38" r="2.15"/><circle cx="239.86" cy="65.32" r="2.15"/><circle cx="237.22" cy="65.33" r="2.15"/><circle cx="234.61" cy="65.42" r="2.15"/><circle cx="232.01" cy="65.57" r="2.15"/><circle cx="229.43" cy="65.81" r="2.15"/><circle cx="226.86" cy="66.13" r="2.15"/><circle cx="224.32" cy="66.53" r="2.15"/><circle cx="221.76" cy="67.04" r="2.15"/><circle cx="219.2" cy="67.7" r="2.15"/><circle cx="216.68" cy="68.42" r="2.15"/><circle cx="214.24" cy="69.13" r="2.15"/><circle cx="211.91" cy="69.74" r="2.15"/><circle cx="209.69" cy="70.28" r="2.15"/><circle cx="207.53" cy="70.8" r="2.15"/><circle cx="205.42" cy="71.31" r="2.15"/><circle cx="203.36" cy="71.84" r="2.15"/><circle cx="201.33" cy="72.4" r="2.15"/><circle cx="199.33" cy="73.03" r="2.15"/><circle cx="197.35" cy="73.71" r="2.15"/><circle cx="195.42" cy="74.42" r="2.15"/><circle cx="193.52" cy="75.16" r="2.15"/><circle cx="191.65" cy="75.94" r="2.15"/><circle cx="189.83" cy="76.75" r="2.15"/><circle cx="188.04" cy="77.59" r="2.15"/><circle cx="186.29" cy="78.45" r="2.15"/><circle cx="184.59" cy="79.35" r="2.15"/><circle cx="182.92" cy="80.26" r="2.15"/><circle cx="181.29" cy="81.18" r="2.15"/><circle cx="179.71" cy="82.12" r="2.15"/><circle cx="178.16" cy="83.09" r="2.15"/><circle cx="176.65" cy="84.09" r="2.15"/><circle cx="175.17" cy="85.13" r="2.15"/><circle cx="173.74" cy="86.21" r="2.15"/><circle cx="172.34" cy="87.34" r="2.15"/><circle cx="170.99" cy="88.52" r="2.15"/><circle cx="169.67" cy="89.77" r="2.15"/><circle cx="168.4" cy="91.07" r="2.15"/><circle cx="167.18" cy="92.42" r="2.15"/><circle cx="166" cy="93.81" r="2.15"/><circle cx="164.87" cy="95.22" r="2.15"/><circle cx="163.79" cy="96.66" r="2.15"/><circle cx="162.76" cy="98.1" r="2.15"/><circle cx="161.78" cy="99.54" r="2.15"/><circle cx="160.85" cy="100.98" r="2.15"/><circle cx="159.96" cy="102.41" r="2.15"/><circle cx="159.12" cy="103.85" r="2.15"/><circle cx="158.33" cy="105.28" r="2.15"/><circle cx="157.59" cy="106.73" r="2.15"/><circle cx="156.89" cy="108.18" r="2.15"/><circle cx="156.24" cy="109.64" r="2.15"/><circle cx="155.64" cy="111.11" r="2.15"/><circle cx="155.09" cy="112.61" r="2.15"/><circle cx="154.62" cy="114.19" r="2.15"/><circle cx="154.2" cy="115.81" r="2.15"/><circle cx="153.84" cy="117.44" r="2.15"/><circle cx="153.51" cy="119.01" r="2.15"/><circle cx="153.21" cy="120.5" r="2.15"/><circle cx="152.91" cy="121.84" r="2.15"/><circle cx="152.59" cy="123.01" r="2.15"/><circle cx="152.26" cy="124.06" r="2.15"/><circle cx="151.94" cy="125.06" r="2.15"/><circle cx="151.63" cy="126.01" r="2.15"/><circle cx="151.33" cy="126.89" r="2.15"/><circle cx="151.01" cy="127.71" r="2.15"/><circle cx="150.68" cy="128.45" r="2.15"/><circle cx="150.34" cy="129.11" r="2.15"/><circle cx="149.99" cy="129.74" r="2.15"/><circle cx="149.65" cy="130.36" r="2.15"/><circle cx="149.32" cy="130.96" r="2.15"/><circle cx="148.98" cy="131.53" r="2.15"/><circle cx="148.63" cy="132.05" r="2.15"/><circle cx="148.25" cy="132.51" r="2.15"/><circle cx="147.82" cy="132.9" r="2.15"/><circle cx="147.28" cy="133.11" r="2.15"/><circle cx="146.43" cy="132.92" r="2.15"/><circle cx="145.33" cy="132.42" r="2.15"/><circle cx="144.02" cy="131.72" r="2.15"/><circle cx="142.58" cy="130.93" r="2.15"/><circle cx="141.09" cy="130.16" r="2.15"/><circle cx="139.61" cy="129.49" r="2.15"/><circle cx="138.15" cy="128.92" r="2.15"/><circle cx="136.59" cy="128.31" r="2.15"/><circle cx="134.93" cy="127.68" r="2.15"/><circle cx="133.2" cy="127.05" r="2.15"/><circle cx="131.42" cy="126.46" r="2.15"/><circle cx="129.62" cy="125.92" r="2.15"/><circle cx="127.8" cy="125.46" r="2.15"/><circle cx="125.99" cy="125.07" r="2.15"/><circle cx="124.09" cy="124.69" r="2.15"/><circle cx="122.14" cy="124.33" r="2.15"/><circle cx="120.17" cy="124.04" r="2.15"/><circle cx="118.26" cy="123.87" r="2.15"/><circle cx="116.45" cy="123.85" r="2.15"/><circle cx="114.81" cy="124.01" r="2.15"/><circle cx="113.31" cy="124.31" r="2.15"/><circle cx="111.79" cy="124.64" r="2.15"/><circle cx="110.33" cy="125.06" r="2.15"/><circle cx="109.02" cy="125.61" r="2.15"/><circle cx="107.96" cy="126.34" r="2.15"/><circle cx="107.23" cy="127.27" r="2.15"/><circle cx="106.7" cy="128.32" r="2.15"/><circle cx="106.24" cy="129.4" r="2.15"/><circle cx="105.84" cy="130.51" r="2.15"/><circle cx="105.5" cy="131.64" r="2.15"/><circle cx="105.25" cy="132.8" r="2.15"/><circle cx="105.43" cy="134.14" r="2.15"/><circle cx="105.97" cy="135.6" r="2.15"/><circle cx="106.66" cy="137.07" r="2.15"/><circle cx="107.29" cy="138.48" r="2.15"/><circle cx="107.9" cy="139.85" r="2.15"/><circle cx="108.59" cy="141.2" r="2.15"/><circle cx="109.42" cy="142.55" r="2.15"/><circle cx="110.47" cy="143.93" r="2.15"/><circle cx="111.85" cy="145.34" r="2.15"/><circle cx="113.84" cy="146.84" r="2.15"/><circle cx="116.34" cy="148.39" r="2.15"/><circle cx="119.19" cy="149.9" r="2.15"/><circle cx="122.2" cy="151.34" r="2.15"/><circle cx="125.53" cy="152.71" r="2.15"/><circle cx="129.3" cy="154.04" r="2.15"/><circle cx="133.01" cy="155.21" r="2.15"/><circle cx="136.25" cy="156.2" r="2.15"/><circle cx="139.2" cy="157.03" r="2.15"/><circle cx="142.32" cy="157.78" r="2.15"/><circle cx="146.12" cy="158.46" r="2.15"/><circle cx="151.08" cy="159.07" r="2.15"/><circle cx="156.01" cy="159.5" r="2.15"/><circle cx="161.1" cy="159.76" r="2.15"/><circle cx="164" cy="159.85" r="2.15"/><circle cx="156" cy="160.02" r="2.15"/><circle cx="152.32" cy="160.33" r="2.15"/><circle cx="149.65" cy="160.71" r="2.15"/><circle cx="147.01" cy="161.18" r="2.15"/><circle cx="144.76" cy="161.71" r="2.15"/><circle cx="142.55" cy="162.31" r="2.15"/><circle cx="140" cy="163.04" r="2.15"/><circle cx="136.72" cy="163.96" r="2.15"/><circle cx="133.06" cy="165.07" r="2.15"/><circle cx="129.54" cy="166.28" r="2.15"/><circle cx="126.02" cy="167.62" r="2.15"/><circle cx="122.78" cy="169.04" r="2.15"/><circle cx="119.91" cy="170.49" r="2.15"/><circle cx="117.25" cy="172.01" r="2.15"/><circle cx="114.94" cy="173.53" r="2.15"/><circle cx="113.13" cy="175.01" r="2.15"/><circle cx="111.68" cy="176.46" r="2.15"/><circle cx="110.49" cy="177.89" r="2.15"/><circle cx="109.48" cy="179.31" r="2.15"/><circle cx="108.5" cy="180.78" r="2.15"/><circle cx="107.57" cy="182.28" r="2.15"/><circle cx="106.84" cy="183.75" r="2.15"/><circle cx="106.44" cy="185.13" r="2.15"/><circle cx="106.48" cy="186.35" r="2.15"/><circle cx="106.72" cy="187.49" r="2.15"/><circle cx="107.03" cy="188.61" r="2.15"/><circle cx="107.4" cy="189.71" r="2.15"/><circle cx="107.84" cy="190.77" r="2.15"/><circle cx="108.36" cy="191.8" r="2.15"/><circle cx="109.18" cy="192.65" r="2.15"/><circle cx="110.36" cy="193.28" r="2.15"/><circle cx="111.8" cy="193.72" r="2.15"/><circle cx="113.39" cy="194.02" r="2.15"/><circle cx="115.03" cy="194.23" r="2.15"/><circle cx="116.64" cy="194.41" r="2.15"/><circle cx="118.14" cy="194.62" r="2.15"/><circle cx="119.64" cy="194.78" r="2.15"/><circle cx="121.16" cy="194.88" r="2.15"/><circle cx="122.71" cy="194.91" r="2.15"/><circle cx="124.27" cy="194.86" r="2.15"/><circle cx="125.87" cy="194.74" r="2.15"/><circle cx="127.48" cy="194.53" r="2.15"/><circle cx="129.12" cy="194.24" r="2.15"/><circle cx="130.78" cy="193.86" r="2.15"/><circle cx="132.47" cy="193.38" r="2.15"/><circle cx="134.27" cy="192.71" r="2.15"/><circle cx="136.16" cy="191.85" r="2.15"/><circle cx="138.07" cy="190.86" r="2.15"/><circle cx="139.94" cy="189.83" r="2.15"/><circle cx="141.7" cy="188.81" r="2.15"/><circle cx="143.31" cy="187.87" r="2.15"/><circle cx="144.95" cy="186.79" r="2.15"/><circle cx="146.62" cy="185.57" r="2.15"/><circle cx="148.18" cy="184.37" r="2.15"/><circle cx="149.53" cy="183.38" r="2.15"/><circle cx="150.54" cy="182.77" r="2.15"/><circle cx="151.13" cy="182.75" r="2.15"/><circle cx="151.46" cy="183.11" r="2.15"/><circle cx="151.71" cy="183.64" r="2.15"/><circle cx="151.88" cy="184.31" r="2.15"/><circle cx="152.01" cy="185.1" r="2.15"/><circle cx="152.1" cy="185.98" r="2.15"/><circle cx="152.2" cy="186.94" r="2.15"/><circle cx="152.3" cy="187.95" r="2.15"/><circle cx="152.42" cy="188.98" r="2.15"/><circle cx="152.58" cy="190" r="2.15"/><circle cx="152.74" cy="191.09" r="2.15"/><circle cx="152.87" cy="192.35" r="2.15"/><circle cx="152.99" cy="193.73" r="2.15"/><circle cx="153.13" cy="195.21" r="2.15"/><circle cx="153.29" cy="196.76" r="2.15"/><circle cx="153.5" cy="198.33" r="2.15"/><circle cx="153.75" cy="199.91" r="2.15"/><circle cx="154.07" cy="201.45" r="2.15"/><circle cx="154.42" cy="203.06" r="2.15"/><circle cx="154.81" cy="204.74" r="2.15"/><circle cx="155.24" cy="206.45" r="2.15"/><circle cx="155.74" cy="208.13" r="2.15"/><circle cx="156.3" cy="209.73" r="2.15"/><circle cx="156.95" cy="211.2" r="2.15"/><circle cx="157.66" cy="212.49" r="2.15"/><circle cx="158.43" cy="213.7" r="2.15"/><circle cx="159.25" cy="214.82" r="2.15"/><circle cx="160.11" cy="215.88" r="2.15"/><circle cx="161.01" cy="216.89" r="2.15"/><circle cx="161.94" cy="217.86" r="2.15"/><circle cx="162.91" cy="218.82" r="2.15"/><circle cx="163.91" cy="219.78" r="2.15"/><circle cx="164.94" cy="220.75" r="2.15"/><circle cx="166" cy="221.73" r="2.15"/><circle cx="167.1" cy="222.66" r="2.15"/><circle cx="168.22" cy="223.55" r="2.15"/><circle cx="169.38" cy="224.43" r="2.15"/><circle cx="170.58" cy="225.29" r="2.15"/><circle cx="171.8" cy="226.15" r="2.15"/><circle cx="173.06" cy="227.03" r="2.15"/><circle cx="174.36" cy="227.93" r="2.15"/><circle cx="175.7" cy="228.87" r="2.15"/><circle cx="177.09" cy="229.86" r="2.15"/><circle cx="178.53" cy="230.9" r="2.15"/><circle cx="180.02" cy="232" r="2.15"/><circle cx="181.58" cy="233.13" r="2.15"/><circle cx="183.19" cy="234.29" r="2.15"/><circle cx="184.86" cy="235.48" r="2.15"/><circle cx="186.59" cy="236.68" r="2.15"/><circle cx="188.38" cy="237.88" r="2.15"/><circle cx="190.23" cy="239.09" r="2.15"/><circle cx="192.15" cy="240.33" r="2.15"/><circle cx="194.17" cy="241.67" r="2.15"/><circle cx="196.28" cy="243.05" r="2.15"/><circle cx="198.47" cy="244.43" r="2.15"/><circle cx="200.71" cy="245.75" r="2.15"/><circle cx="202.98" cy="246.98" r="2.15"/><circle cx="205.28" cy="248.06" r="2.15"/><circle cx="207.59" cy="249.04" r="2.15"/><circle cx="209.94" cy="249.93" r="2.15"/><circle cx="212.32" cy="250.75" r="2.15"/><circle cx="214.73" cy="251.49" r="2.15"/><circle cx="217.17" cy="252.16" r="2.15"/><circle cx="219.65" cy="252.78" r="2.15"/><circle cx="222.18" cy="253.35" r="2.15"/><circle cx="224.75" cy="253.87" r="2.15"/><circle cx="227.33" cy="254.29" r="2.15"/><circle cx="229.9" cy="254.59" r="2.15"/><circle cx="232.45" cy="254.75" r="2.15"/><circle cx="234.95" cy="254.74" r="2.15"/><circle cx="237.4" cy="254.61" r="2.15"/><circle cx="239.85" cy="254.37" r="2.15"/><circle cx="242.3" cy="254.07" r="2.15"/><circle cx="244.79" cy="253.75" r="2.15"/><circle cx="247.32" cy="253.4" r="2.15"/><circle cx="249.85" cy="252.98" r="2.15"/><circle cx="252.34" cy="252.43" r="2.15"/><circle cx="254.71" cy="251.71" r="2.15"/><circle cx="256.99" cy="250.84" r="2.15"/><circle cx="259.29" cy="249.94" r="2.15"/><circle cx="261.51" cy="248.91" r="2.15"/><circle cx="263.56" cy="247.69" r="2.15"/><circle cx="265.31" cy="246.18" r="2.15"/><circle cx="266.84" cy="244.46" r="2.15"/><circle cx="268.32" cy="242.71" r="2.15"/><circle cx="269.77" cy="240.93" r="2.15"/><circle cx="271.18" cy="239.11" r="2.15"/><circle cx="272.46" cy="237.2" r="2.15"/><circle cx="273.3" cy="234.98" r="2.15"/><circle cx="273.82" cy="232.57" r="2.15"/><circle cx="274.15" cy="230.08" r="2.15"/><circle cx="274.46" cy="227.62" r="2.15"/><circle cx="274.67" cy="225.15" r="2.15"/><circle cx="274.7" cy="222.61" r="2.15"/><circle cx="274.53" cy="220.01" r="2.15"/><circle cx="274.16" cy="217.36" r="2.15"/><circle cx="273.42" cy="214.58" r="2.15"/><circle cx="272.39" cy="211.74" r="2.15"/><circle cx="271.19" cy="208.9" r="2.15"/><circle cx="269.76" cy="206.05" r="2.15"/><circle cx="268.09" cy="203.19" r="2.15"/><circle cx="266.18" cy="200.32" r="2.15"/><circle cx="264.15" cy="197.53" r="2.15"/><circle cx="262.09" cy="194.82" r="2.15"/><circle cx="259.65" cy="192.09" r="2.15"/><circle cx="256.61" cy="189.29" r="2.15"/><circle cx="252.61" cy="186.33" r="2.15"/><circle cx="249.05" cy="183.67" r="2.15"/><circle cx="245.21" cy="181.07" r="2.15"/><circle cx="240.85" cy="178.51" r="2.15"/><circle cx="236.84" cy="176.2" r="2.15"/><circle cx="232.42" cy="173.97" r="2.15"/><circle cx="228.14" cy="171.93" r="2.15"/><circle cx="223.22" cy="169.94" r="2.15"/><circle cx="218.74" cy="168.2" r="2.15"/><circle cx="212.84" cy="166.43" r="2.15"/><circle cx="206.89" cy="164.87" r="2.15"/><circle cx="201.01" cy="163.53" r="2.15"/><circle cx="195.49" cy="162.43" r="2.15"/><circle cx="189.84" cy="161.52" r="2.15"/><circle cx="183.88" cy="160.79" r="2.15"/><circle cx="177.99" cy="160.27" r="2.15"/><circle cx="172" cy="159.95" r="2.15"/></g>
<path d="M522.8,159.6 L524.12,159.59 L527.33,159.54 L531.27,159.46 L534.8,159.36 L537.78,159.23 L540.78,159.08 L543.66,158.9 L546.28,158.71 L548.61,158.51 L550.73,158.29 L552.78,158.06 L554.85,157.82 L556.98,157.55 L559.1,157.26 L561.2,156.95 L563.3,156.63 L565.36,156.29 L567.41,155.93 L569.45,155.56 L571.51,155.16 L573.61,154.75 L575.74,154.31 L577.85,153.86 L579.87,153.39 L581.8,152.92 L583.65,152.44 L585.48,151.95 L587.3,151.43 L589.13,150.91 L590.95,150.36 L592.76,149.81 L594.57,149.23 L596.41,148.64 L598.25,148.03 L600.06,147.4 L601.79,146.77 L603.42,146.14 L604.98,145.51 L606.51,144.87 L608.05,144.21 L609.64,143.53 L611.24,142.84 L612.82,142.13 L614.35,141.42 L615.82,140.7 L617.25,139.98 L618.64,139.25 L619.98,138.52 L621.29,137.78 L622.56,137.04 L623.79,136.3 L624.96,135.55 L626.08,134.81 L627.15,134.07 L628.18,133.32 L629.18,132.58 L630.14,131.83 L631.07,131.08 L631.97,130.33 L632.85,129.58 L633.7,128.82 L634.53,128.06 L635.35,127.29 L636.15,126.52 L636.96,125.74 L637.77,124.95 L638.55,124.16 L639.29,123.38 L639.99,122.59 L640.68,121.8 L641.31,121.02 L641.87,120.26 L642.36,119.52 L642.8,118.78 L643.2,118.05 L643.58,117.32 L643.94,116.6 L644.29,115.87 L644.66,115.13 L645.05,114.38 L645.42,113.62 L645.73,112.89 L645.93,112.19 L646,111.54 L646.03,110.9 L646.04,110.27 L646.03,109.64 L645.98,109.02 L645.89,108.42 L645.76,107.84 L645.57,107.28 L645.34,106.74 L645.1,106.2 L644.85,105.66 L644.59,105.13 L644.33,104.6 L644.05,104.08 L643.77,103.56 L643.49,103.04 L643.19,102.53 L642.89,102.02 L642.58,101.51 L642.26,101.02 L641.87,100.55 L641.43,100.11 L640.95,99.7 L640.41,99.31 L639.85,98.94 L639.25,98.59 L638.63,98.26 L638,97.94 L637.35,97.63 L636.71,97.32 L636.05,97.02 L635.33,96.76 L634.57,96.54 L633.76,96.34 L632.93,96.16 L632.08,96 L631.21,95.85 L630.34,95.72 L629.48,95.58 L628.63,95.45 L627.78,95.32 L626.91,95.21 L626.04,95.11 L625.17,95.02 L624.28,94.94 L623.39,94.87 L622.5,94.81 L621.61,94.76 L620.72,94.71 L619.83,94.67 L618.95,94.64 L618.06,94.61 L617.18,94.59 L616.29,94.58 L615.41,94.58 L614.52,94.58 L613.64,94.6 L612.75,94.62 L611.87,94.64 L610.98,94.68 L610.1,94.72 L609.22,94.76 L608.35,94.82 L607.47,94.88 L606.6,94.94 L605.73,95.02 L604.86,95.1 L603.99,95.19 L603.13,95.28 L602.26,95.38 L601.4,95.49 L600.54,95.6 L599.68,95.73 L598.82,95.86 L597.95,96 L597.07,96.17 L596.19,96.34 L595.3,96.53 L594.43,96.72 L593.56,96.9 L592.71,97.09 L591.88,97.26 L591.07,97.43 L590.29,97.58 L589.54,97.71 L588.83,97.8 L588.17,97.87 L587.53,97.92 L586.89,97.97 L586.24,98.04 L585.57,98.14 L584.85,98.28 L584.08,98.49 L583.26,98.76 L582.4,99.06 L581.52,99.4 L580.64,99.76 L579.75,100.14 L578.87,100.51 L578.02,100.86 L577.2,101.2 L576.43,101.49 L575.68,101.76 L574.93,102.06 L574.17,102.37 L573.41,102.68 L572.66,103 L571.93,103.31 L571.21,103.61 L570.53,103.88 L569.88,104.13 L569.27,104.33 L568.71,104.49 L568.2,104.59 L567.75,104.63 L567.36,104.6 L567,104.54 L566.64,104.48 L566.29,104.42 L565.94,104.35 L565.59,104.28 L565.26,104.21 L564.92,104.13 L564.59,104.05 L564.27,103.96 L563.95,103.87 L563.64,103.77 L563.33,103.67 L563.03,103.56 L562.73,103.44 L562.45,103.32 L562.16,103.19 L561.88,103.05 L561.61,102.91 L561.35,102.75 L561.09,102.59 L560.84,102.42 L560.59,102.25 L560.34,102.07 L560.1,101.89 L559.85,101.7 L559.61,101.51 L559.37,101.32 L559.13,101.13 L558.9,100.94 L558.66,100.74 L558.42,100.55 L558.18,100.35 L557.95,100.15 L557.71,99.96 L557.47,99.76 L557.23,99.56 L556.99,99.36 L556.75,99.17 L556.51,98.97 L556.27,98.78 L556.03,98.58 L555.79,98.37 L555.56,98.16 L555.33,97.94 L555.1,97.72 L554.87,97.49 L554.65,97.26 L554.42,97.03 L554.19,96.8 L553.97,96.56 L553.74,96.33 L553.51,96.09 L553.28,95.86 L553.05,95.62 L552.81,95.4 L552.57,95.17 L552.33,94.95 L552.09,94.73 L551.84,94.53 L551.59,94.32 L551.33,94.13 L551.07,93.94 L550.8,93.77 L550.53,93.6 L550.25,93.45 L549.97,93.3 L549.69,93.15 L549.41,93 L549.13,92.86 L548.85,92.71 L548.57,92.57 L548.28,92.43 L547.99,92.29 L547.71,92.15 L547.42,92.02 L547.13,91.89 L546.84,91.76 L546.55,91.63 L546.26,91.5 L545.97,91.38 L545.68,91.25 L545.38,91.13 L545.09,91.02 L544.79,90.9 L544.49,90.79 L544.2,90.68 L543.9,90.57 L543.6,90.47 L543.3,90.37 L542.99,90.27 L542.69,90.17 L542.39,90.08 L542.08,90 L541.77,89.93 L541.45,89.87 L541.14,89.82 L540.82,89.78 L540.5,89.75 L540.18,89.73 L539.85,89.71 L539.53,89.71 L539.2,89.71 L538.87,89.71 L538.55,89.72 L538.22,89.74 L537.89,89.77 L537.56,89.8 L537.23,89.83 L536.9,89.87 L536.57,89.91 L536.24,89.96 L535.91,90.01 L535.58,90.06 L535.25,90.12 L534.92,90.17 L534.6,90.24 L534.27,90.31 L533.94,90.41 L533.6,90.53 L533.27,90.66 L532.93,90.81 L532.59,90.98 L532.25,91.16 L531.92,91.35 L531.58,91.56 L531.24,91.77 L530.9,92 L530.57,92.23 L530.23,92.48 L529.9,92.73 L529.57,92.98 L529.24,93.24 L528.91,93.51 L528.59,93.78 L528.27,94.05 L527.95,94.32 L527.63,94.59 L527.32,94.86 L527.01,95.13 L526.7,95.4 L526.39,95.66 L526.09,95.91 L525.79,96.16 L525.5,96.4 L525.2,96.64 L524.91,96.86 L524.62,97.07 L524.34,97.28 L524.06,97.47 L523.78,97.65 L523.5,97.84 L523.22,98.03 L522.94,98.21 L522.67,98.4 L522.4,98.58 L522.13,98.76 L521.86,98.94 L521.59,99.12 L521.33,99.3 L521.06,99.48 L520.8,99.65 L520.54,99.83 L520.28,100 L520.02,100.17 L519.77,100.33 L519.51,100.5 L519.26,100.66 L519,100.82 L518.75,100.98 L518.5,101.13 L518.25,101.28 L518.01,101.43 L517.76,101.58 L517.51,101.72 L517.27,101.86 L517.02,102 L516.78,102.14 L516.54,102.28 L516.3,102.42 L516.06,102.56 L515.82,102.69 L515.58,102.83 L515.35,102.97 L515.11,103.1 L514.88,103.24 L514.64,103.37 L514.41,103.51 L514.18,103.64 L513.94,103.77 L513.71,103.9 L513.48,104.03 L513.26,104.16 L513.03,104.29 L512.8,104.42 L512.57,104.55 L512.35,104.68 L512.12,104.8 L511.9,104.93 L511.67,105.06 L511.45,105.18 L511.23,105.31 L511,105.43 L510.78,105.55 L510.56,105.68 L510.34,105.8 L510.12,105.92 L509.9,106.04 L509.68,106.16 L509.47,106.28 L509.25,106.4 L509.03,106.53 L508.82,106.65 L508.61,106.78 L508.39,106.91 L508.18,107.04 L507.97,107.17 L507.76,107.3 L507.55,107.44 L507.34,107.57 L507.14,107.7 L506.93,107.84 L506.72,107.97 L506.52,108.1 L506.31,108.23 L506.11,108.37 L505.91,108.5 L505.7,108.63 L505.5,108.76 L505.3,108.89 L505.09,109.01 L504.89,109.14 L504.69,109.27 L504.49,109.39 L504.28,109.51 L504.08,109.63 L503.88,109.74 L503.67,109.86 L503.47,109.97 L503.26,110.08 L503.06,110.19 L502.85,110.29 L502.65,110.39 L502.44,110.49 L502.23,110.58 L502.02,110.67 L501.81,110.76 L501.6,110.85 L501.38,110.93 L501.17,111.01 L500.96,111.1 L500.74,111.18 L500.53,111.26 L500.32,111.34 L500.1,111.43 L499.89,111.51 L499.68,111.6 L499.47,111.68 L499.25,111.77 L499.04,111.86 L498.83,111.95 L498.62,112.04 L498.41,112.13 L498.2,112.22 L497.99,112.32 L497.79,112.42 L497.58,112.52 L497.37,112.62 L497.17,112.72 L496.98,112.84 L496.79,112.98 L496.61,113.13 L496.44,113.3 L496.27,113.47 L496.11,113.66 L495.96,113.85 L495.81,114.05 L495.66,114.25 L495.52,114.46 L495.38,114.67 L495.24,114.88 L495.1,115.09 L494.97,115.3 L494.83,115.52 L494.71,115.74 L494.59,115.97 L494.47,116.21 L494.36,116.46 L494.26,116.71 L494.16,116.96 L494.06,117.23 L493.98,117.49 L493.89,117.77 L493.81,118.04 L493.74,118.32 L493.67,118.6 L493.6,118.89 L493.54,119.18 L493.48,119.47 L493.42,119.76 L493.36,120.05 L493.31,120.34 L493.26,120.64 L493.22,120.93 L493.17,121.22 L493.14,121.52 L493.1,121.82 L493.07,122.13 L493.05,122.44 L493.03,122.75 L493.02,123.07 L493.01,123.39 L493.01,123.71 L493.01,124.04 L493.02,124.36 L493.03,124.69 L493.05,125.02 L493.07,125.36 L493.1,125.69 L493.13,126.03 L493.16,126.37 L493.2,126.71 L493.25,127.05 L493.3,127.4 L493.36,127.75 L493.42,128.11 L493.5,128.47 L493.58,128.83 L493.67,129.2 L493.76,129.57 L493.86,129.94 L493.97,130.32 L494.08,130.7 L494.2,131.08 L494.32,131.46 L494.45,131.83 L494.58,132.21 L494.71,132.58 L494.84,132.95 L494.98,133.33 L495.13,133.71 L495.29,134.09 L495.45,134.47 L495.62,134.86 L495.81,135.26 L496.01,135.66 L496.22,136.07 L496.45,136.49 L496.69,136.92 L496.95,137.36 L497.22,137.81 L497.56,138.3 L498,138.89 L498.53,139.55 L499.13,140.26 L499.75,140.98 L500.39,141.7 L501,142.39 L501.56,143.02 L502.05,143.58 L502.42,144.04 L502.66,144.38 L502.73,144.57 L502.64,144.63 L502.46,144.61 L502.2,144.54 L501.89,144.42 L501.53,144.27 L501.14,144.1 L500.73,143.92 L500.33,143.75 L499.93,143.59 L499.56,143.45 L499.24,143.35 L498.94,143.28 L498.66,143.21 L498.38,143.16 L498.1,143.11 L497.83,143.07 L497.57,143.03 L497.31,143 L497.06,142.97 L496.8,142.95 L496.55,142.93 L496.3,142.92 L496.05,142.9 L495.8,142.89 L495.54,142.88 L495.29,142.87 L495.03,142.86 L494.76,142.85 L494.49,142.84 L494.22,142.83 L493.94,142.81 L493.65,142.8 L493.35,142.78 L493.04,142.75 L492.72,142.73 L492.39,142.7 L492.05,142.66 L491.69,142.62 L491.31,142.58 L490.92,142.52 L490.51,142.46 L490.08,142.39 L489.63,142.32 L489.17,142.25 L488.7,142.17 L488.22,142.09 L487.72,142.01 L487.22,141.93 L486.7,141.85 L486.18,141.77 L485.66,141.69 L485.12,141.62 L484.59,141.54 L484.05,141.48 L483.51,141.41 L482.95,141.34 L482.35,141.26 L481.71,141.16 L481.04,141.06 L480.35,140.95 L479.66,140.85 L478.99,140.77 L478.34,140.69 L477.72,140.65 L477.16,140.63 L476.66,140.64 L476.25,140.69 L475.89,140.77 L475.56,140.86 L475.25,140.97 L474.97,141.08 L474.7,141.21 L474.44,141.34 L474.18,141.47 L473.93,141.61 L473.68,141.75 L473.42,141.88 L473.15,142.02 L472.88,142.16 L472.62,142.3 L472.37,142.45 L472.14,142.61 L471.92,142.77 L471.73,142.94 L471.57,143.13 L471.44,143.32 L471.35,143.53 L471.29,143.75 L471.28,143.99 L471.29,144.23 L471.33,144.48 L471.38,144.73 L471.45,144.98 L471.52,145.24 L471.58,145.49 L471.65,145.74 L471.72,145.99 L471.79,146.24 L471.87,146.49 L471.96,146.74 L472.06,146.99 L472.16,147.25 L472.29,147.5 L472.42,147.76 L472.57,148.02 L472.74,148.28 L472.93,148.55 L473.14,148.82 L473.37,149.09 L473.63,149.36 L473.91,149.63 L474.22,149.91 L474.65,150.21 L475.33,150.55 L476.2,150.93 L477.18,151.32 L478.21,151.71 L479.21,152.08 L480.1,152.42 L480.84,152.73 L481.51,153.03 L482.14,153.3 L482.74,153.57 L483.33,153.83 L483.93,154.09 L484.56,154.35 L485.23,154.6 L485.96,154.86 L486.76,155.12 L487.61,155.38 L488.5,155.63 L489.44,155.89 L490.42,156.14 L491.43,156.38 L492.48,156.62 L493.55,156.86 L494.64,157.08 L495.76,157.3 L496.89,157.51 L498.16,157.72 L499.65,157.94 L501.3,158.15 L503.04,158.36 L504.81,158.55 L506.55,158.73 L508.2,158.88 L509.69,159.02 L510.96,159.13 L511.94,159.21 L512.58,159.28 L512.8,159.32 L512.8,159.36 L512.8,159.39 L512.8,159.43 L512.8,159.46 L512.8,159.5 L512.8,159.53 L512.8,159.57 L512.8,159.6 L512.8,159.63 L512.8,159.67 L512.8,159.7 L512.8,159.74 L512.8,159.77 L512.8,159.81 L512.8,159.84 L512.8,159.88 L512.62,159.92 L512.1,159.98 L511.28,160.06 L510.19,160.16 L508.88,160.28 L507.39,160.42 L505.75,160.59 L504,160.77 L502.2,160.98 L500.36,161.21 L498.54,161.45 L496.76,161.7 L495.08,161.96 L493.53,162.23 L492.14,162.49 L490.96,162.74 L489.9,162.98 L488.83,163.24 L487.77,163.51 L486.72,163.78 L485.68,164.07 L484.67,164.36 L483.68,164.65 L482.73,164.95 L481.82,165.25 L480.96,165.55 L480.14,165.86 L479.39,166.16 L478.69,166.46 L478.07,166.75 L477.52,167.04 L477.05,167.31 L476.66,167.58 L476.32,167.84 L476,168.11 L475.72,168.36 L475.46,168.62 L475.22,168.87 L475.01,169.13 L474.8,169.38 L474.61,169.63 L474.42,169.88 L474.23,170.14 L474.04,170.4 L473.84,170.66 L473.65,170.92 L473.45,171.19 L473.27,171.45 L473.1,171.72 L472.94,171.98 L472.8,172.24 L472.69,172.49 L472.6,172.74 L472.55,172.98 L472.53,173.21 L472.54,173.44 L472.58,173.65 L472.63,173.87 L472.67,174.09 L472.72,174.3 L472.76,174.52 L472.81,174.73 L472.87,174.94 L472.92,175.16 L472.98,175.37 L473.04,175.58 L473.1,175.79 L473.16,176 L473.23,176.21 L473.3,176.42 L473.37,176.63 L473.44,176.84 L473.52,177.04 L473.62,177.24 L473.81,177.4 L474.07,177.54 L474.4,177.64 L474.78,177.73 L475.21,177.79 L475.67,177.83 L476.15,177.87 L476.65,177.89 L477.16,177.9 L477.66,177.91 L478.15,177.92 L478.62,177.94 L479.07,177.96 L479.53,177.98 L479.99,177.98 L480.47,177.98 L480.96,177.96 L481.47,177.94 L482,177.9 L482.55,177.84 L483.13,177.77 L483.73,177.68 L484.37,177.56 L485.08,177.41 L485.86,177.21 L486.68,176.99 L487.53,176.74 L488.4,176.47 L489.28,176.18 L490.15,175.9 L490.99,175.62 L491.8,175.35 L492.59,175.07 L493.4,174.79 L494.21,174.49 L495.01,174.19 L495.8,173.89 L496.58,173.58 L497.33,173.29 L498.05,173 L498.73,172.73 L499.37,172.48 L499.99,172.23 L500.6,171.98 L501.22,171.72 L501.82,171.46 L502.4,171.21 L502.96,170.97 L503.48,170.74 L503.98,170.53 L504.43,170.34 L504.83,170.17 L505.17,170.04 L505.46,169.95 L505.72,169.87 L505.97,169.79 L506.21,169.72 L506.44,169.65 L506.66,169.59 L506.86,169.54 L507.05,169.5 L507.22,169.47 L507.36,169.46 L507.47,169.46 L507.56,169.48 L507.62,169.53 L507.63,169.62 L507.55,169.77 L507.41,169.96 L507.22,170.21 L506.98,170.5 L506.7,170.82 L506.39,171.17 L506.06,171.54 L505.71,171.93 L505.37,172.32 L504.93,172.8 L504.33,173.42 L503.63,174.13 L502.88,174.9 L502.13,175.68 L501.44,176.43 L500.84,177.11 L500.38,177.67 L499.97,178.19 L499.6,178.69 L499.26,179.17 L498.94,179.63 L498.64,180.08 L498.37,180.52 L498.11,180.94 L497.87,181.36 L497.64,181.77 L497.42,182.18 L497.21,182.58 L497.02,182.97 L496.84,183.36 L496.66,183.74 L496.5,184.11 L496.35,184.48 L496.21,184.84 L496.07,185.2 L495.95,185.56 L495.83,185.92 L495.71,186.27 L495.6,186.62 L495.5,186.97 L495.4,187.32 L495.31,187.66 L495.23,187.99 L495.17,188.31 L495.11,188.63 L495.05,188.96 L494.99,189.29 L494.91,189.64 L494.82,190.02 L494.7,190.43 L494.55,190.88 L494.38,191.37 L494.2,191.87 L494.01,192.38 L493.84,192.89 L493.69,193.38 L493.56,193.84 L493.48,194.26 L493.43,194.64 L493.39,195 L493.36,195.36 L493.35,195.7 L493.34,196.04 L493.35,196.37 L493.36,196.68 L493.38,196.99 L493.42,197.29 L493.46,197.58 L493.51,197.86 L493.56,198.14 L493.61,198.42 L493.67,198.71 L493.73,198.99 L493.79,199.27 L493.86,199.55 L493.92,199.82 L494,200.1 L494.07,200.37 L494.15,200.63 L494.24,200.9 L494.33,201.15 L494.42,201.4 L494.53,201.65 L494.63,201.88 L494.75,202.11 L494.87,202.33 L495,202.55 L495.13,202.75 L495.27,202.94 L495.42,203.12 L495.58,203.28 L495.75,203.44 L495.92,203.58 L496.09,203.72 L496.27,203.85 L496.45,203.98 L496.64,204.11 L496.82,204.23 L497.01,204.35 L497.19,204.47 L497.38,204.59 L497.56,204.72 L497.75,204.84 L497.93,204.97 L498.12,205.1 L498.3,205.23 L498.48,205.35 L498.67,205.48 L498.85,205.61 L499.04,205.74 L499.22,205.87 L499.41,206 L499.59,206.13 L499.78,206.26 L499.97,206.39 L500.15,206.52 L500.34,206.66 L500.53,206.79 L500.72,206.92 L500.9,207.05 L501.09,207.17 L501.28,207.3 L501.47,207.43 L501.67,207.56 L501.86,207.69 L502.05,207.82 L502.24,207.95 L502.44,208.07 L502.63,208.2 L502.82,208.32 L503.02,208.45 L503.22,208.57 L503.41,208.7 L503.61,208.82 L503.81,208.94 L504.01,209.06 L504.21,209.18 L504.41,209.3 L504.61,209.42 L504.82,209.54 L505.02,209.65 L505.22,209.77 L505.43,209.88 L505.63,209.99 L505.84,210.1 L506.05,210.2 L506.26,210.31 L506.47,210.41 L506.68,210.52 L506.89,210.62 L507.1,210.73 L507.31,210.83 L507.52,210.94 L507.74,211.04 L507.95,211.15 L508.16,211.26 L508.37,211.37 L508.58,211.48 L508.8,211.59 L509.01,211.71 L509.22,211.83 L509.43,211.96 L509.64,212.09 L509.85,212.23 L510.06,212.38 L510.27,212.53 L510.48,212.69 L510.69,212.86 L510.9,213.03 L511.11,213.2 L511.32,213.38 L511.53,213.56 L511.74,213.74 L511.95,213.93 L512.17,214.11 L512.38,214.3 L512.6,214.49 L512.81,214.69 L513.03,214.88 L513.25,215.07 L513.47,215.26 L513.7,215.45 L513.92,215.63 L514.15,215.82 L514.37,216 L514.6,216.18 L514.83,216.36 L515.07,216.54 L515.3,216.73 L515.53,216.91 L515.77,217.09 L516.01,217.28 L516.25,217.46 L516.49,217.65 L516.73,217.84 L516.97,218.02 L517.22,218.21 L517.46,218.4 L517.71,218.59 L517.96,218.78 L518.21,218.97 L518.46,219.16 L518.71,219.35 L518.97,219.54 L519.23,219.73 L519.48,219.92 L519.74,220.11 L520.01,220.31 L520.27,220.5 L520.53,220.69 L520.8,220.89 L521.07,221.08 L521.34,221.27 L521.61,221.47 L521.88,221.66 L522.16,221.86 L522.44,222.05 L522.71,222.25 L522.99,222.44 L523.28,222.65 L523.56,222.86 L523.85,223.07 L524.14,223.29 L524.43,223.52 L524.72,223.74 L525.02,223.98 L525.32,224.21 L525.62,224.45 L525.92,224.69 L526.23,224.93 L526.54,225.17 L526.85,225.41 L527.16,225.64 L527.47,225.88 L527.79,226.11 L528.11,226.34 L528.43,226.57 L528.75,226.79 L529.08,227.01 L529.4,227.22 L529.73,227.43 L530.06,227.63 L530.39,227.82 L530.72,228 L531.05,228.17 L531.38,228.34 L531.71,228.49 L532.04,228.63 L532.37,228.77 L532.71,228.89 L533.04,228.99 L533.37,229.1 L533.7,229.21 L534.04,229.32 L534.37,229.43 L534.71,229.53 L535.05,229.64 L535.39,229.74 L535.73,229.84 L536.07,229.93 L536.41,230.02 L536.75,230.11 L537.1,230.19 L537.44,230.26 L537.78,230.33 L538.12,230.39 L538.46,230.44 L538.8,230.48 L539.14,230.51 L539.48,230.54 L539.81,230.55 L540.14,230.55 L540.47,230.53 L540.8,230.51 L541.12,230.47 L541.44,230.42 L541.76,230.35 L542.07,230.27 L542.38,230.17 L542.68,230.08 L542.99,229.98 L543.3,229.88 L543.6,229.77 L543.9,229.66 L544.21,229.55 L544.51,229.44 L544.81,229.32 L545.11,229.2 L545.41,229.08 L545.7,228.96 L546,228.84 L546.3,228.71 L546.59,228.58 L546.88,228.45 L547.18,228.31 L547.47,228.18 L547.76,228.04 L548.05,227.9 L548.34,227.76 L548.63,227.61 L548.91,227.47 L549.2,227.32 L549.48,227.17 L549.77,227.02 L550.05,226.87 L550.33,226.72 L550.61,226.56 L550.89,226.41 L551.17,226.24 L551.45,226.07 L551.72,225.9 L551.99,225.73 L552.25,225.54 L552.52,225.36 L552.78,225.17 L553.04,224.98 L553.3,224.78 L553.55,224.58 L553.81,224.38 L554.06,224.17 L554.3,223.96 L554.55,223.75 L554.79,223.53 L555.03,223.31 L555.27,223.09 L555.51,222.87 L555.74,222.64 L555.98,222.41 L556.21,222.18 L556.44,221.95 L556.66,221.71 L556.89,221.48 L557.11,221.24 L557.33,221 L557.55,220.77 L557.77,220.53 L557.99,220.28 L558.2,220.04 L558.42,219.8 L558.63,219.56 L558.84,219.31 L559.05,219.06 L559.24,218.8 L559.43,218.52 L559.61,218.24 L559.79,217.95 L559.95,217.65 L560.12,217.35 L560.28,217.05 L560.44,216.74 L560.6,216.44 L560.76,216.15 L560.93,215.86 L561.1,215.57 L561.27,215.3 L561.45,215.04 L561.64,214.79 L561.83,214.55 L562.04,214.33 L562.27,214.13 L562.5,213.95 L562.76,213.79 L563.04,213.66 L563.33,213.55 L563.65,213.47 L563.98,213.4 L564.32,213.34 L564.68,213.3 L565.05,213.27 L565.42,213.25 L565.81,213.24 L566.19,213.22 L566.59,213.21 L567,213.22 L567.46,213.27 L567.95,213.36 L568.48,213.49 L569.05,213.65 L569.64,213.84 L570.26,214.06 L570.91,214.29 L571.59,214.54 L572.28,214.81 L572.99,215.08 L573.72,215.36 L574.45,215.65 L575.2,215.93 L575.95,216.21 L576.7,216.49 L577.46,216.75 L578.21,217.01 L578.99,217.28 L579.81,217.59 L580.65,217.91 L581.52,218.24 L582.41,218.58 L583.31,218.92 L584.21,219.25 L585.12,219.58 L586.02,219.89 L586.91,220.18 L587.79,220.45 L588.66,220.7 L589.54,220.95 L590.42,221.19 L591.3,221.43 L592.18,221.65 L593.06,221.87 L593.95,222.07 L594.83,222.27 L595.71,222.46 L596.6,222.64 L597.48,222.81 L598.36,222.97 L599.24,223.12 L600.12,223.26 L601,223.39 L601.88,223.52 L602.76,223.63 L603.63,223.74 L604.51,223.83 L605.39,223.92 L606.27,224.01 L607.15,224.08 L608.03,224.14 L608.91,224.2 L609.79,224.25 L610.67,224.3 L611.56,224.34 L612.45,224.37 L613.34,224.4 L614.23,224.41 L615.12,224.42 L616,224.42 L616.89,224.41 L617.76,224.39 L618.64,224.36 L619.51,224.32 L620.37,224.26 L621.23,224.2 L622.09,224.13 L622.95,224.05 L623.82,223.97 L624.68,223.88 L625.53,223.78 L626.37,223.66 L627.2,223.53 L628.02,223.39 L628.82,223.23 L629.6,223.05 L630.35,222.85 L631.09,222.64 L631.83,222.42 L632.57,222.19 L633.3,221.96 L634.02,221.71 L634.72,221.45 L635.4,221.18 L636.06,220.89 L636.7,220.58 L637.3,220.25 L637.88,219.9 L638.41,219.53 L638.93,219.14 L639.45,218.76 L639.97,218.37 L640.48,217.97 L640.98,217.57 L641.46,217.15 L641.91,216.72 L642.34,216.28 L642.74,215.81 L643.09,215.33 L643.41,214.83 L643.67,214.31 L643.89,213.76 L644.09,213.21 L644.25,212.64 L644.39,212.06 L644.51,211.47 L644.61,210.88 L644.69,210.29 L644.76,209.68 L644.79,209.07 L644.73,208.42 L644.59,207.74 L644.39,207.04 L644.11,206.32 L643.78,205.58 L643.39,204.83 L642.96,204.06 L642.49,203.29 L641.98,202.51 L641.44,201.73 L640.88,200.95 L640.2,200.13 L639.32,199.26 L638.29,198.34 L637.17,197.41 L636,196.48 L634.83,195.55 L633.71,194.66 L632.69,193.81 L631.76,193 L630.88,192.21 L630.02,191.44 L629.17,190.67 L628.31,189.92 L627.41,189.17 L626.47,188.41 L625.47,187.65 L624.42,186.88 L623.33,186.12 L622.23,185.36 L621.13,184.61 L620.05,183.89 L618.98,183.17 L617.88,182.46 L616.72,181.74 L615.47,181.02 L614.16,180.3 L612.77,179.57 L611.27,178.83 L609.59,178.07 L607.66,177.27 L605.65,176.48 L603.75,175.72 L602.04,175.02 L600.43,174.36 L598.82,173.71 L597.12,173.06 L595.27,172.4 L593.34,171.74 L591.41,171.1 L589.61,170.5 L587.89,169.93 L586.21,169.38 L584.56,168.85 L582.91,168.33 L581.33,167.84 L579.78,167.37 L578.18,166.9 L576.45,166.43 L574.49,165.95 L572.26,165.46 L569.92,164.98 L567.64,164.52 L565.49,164.1 L563.37,163.7 L561.26,163.32 L559.15,162.96 L557.05,162.61 L554.97,162.29 L552.87,161.98 L550.73,161.69 L548.51,161.42 L546.25,161.16 L543.99,160.92 L541.77,160.7 L539.53,160.5 L537.28,160.32 L535.15,160.16 L533.29,160.04 L531.74,159.93 L530.37,159.85 L529.08,159.78 L527.8,159.72 L526.28,159.67 L524.65,159.63 L523.34,159.61 Z" class="bl"/>
<g class="rd"><circle cx="522.8" cy="159.6" r="2.15"/><circle cx="534.8" cy="159.36" r="2.15"/><circle cx="546.28" cy="158.71" r="2.15"/><circle cx="554.85" cy="157.82" r="2.15"/><circle cx="563.3" cy="156.63" r="2.15"/><circle cx="571.51" cy="155.16" r="2.15"/><circle cx="579.87" cy="153.39" r="2.15"/><circle cx="587.3" cy="151.43" r="2.15"/><circle cx="594.57" cy="149.23" r="2.15"/><circle cx="601.79" cy="146.77" r="2.15"/><circle cx="608.05" cy="144.21" r="2.15"/><circle cx="614.35" cy="141.42" r="2.15"/><circle cx="619.98" cy="138.52" r="2.15"/><circle cx="624.96" cy="135.55" r="2.15"/><circle cx="629.18" cy="132.58" r="2.15"/><circle cx="632.85" cy="129.58" r="2.15"/><circle cx="636.15" cy="126.52" r="2.15"/><circle cx="639.29" cy="123.38" r="2.15"/><circle cx="641.87" cy="120.26" r="2.15"/><circle cx="643.58" cy="117.32" r="2.15"/><circle cx="645.05" cy="114.38" r="2.15"/><circle cx="646" cy="111.54" r="2.15"/><circle cx="645.98" cy="109.02" r="2.15"/><circle cx="645.34" cy="106.74" r="2.15"/><circle cx="644.33" cy="104.6" r="2.15"/><circle cx="643.19" cy="102.53" r="2.15"/><circle cx="641.87" cy="100.55" r="2.15"/><circle cx="639.85" cy="98.94" r="2.15"/><circle cx="637.35" cy="97.63" r="2.15"/><circle cx="634.57" cy="96.54" r="2.15"/><circle cx="631.21" cy="95.85" r="2.15"/><circle cx="627.78" cy="95.32" r="2.15"/><circle cx="624.28" cy="94.94" r="2.15"/><circle cx="620.72" cy="94.71" r="2.15"/><circle cx="617.18" cy="94.59" r="2.15"/><circle cx="613.64" cy="94.6" r="2.15"/><circle cx="610.1" cy="94.72" r="2.15"/><circle cx="606.6" cy="94.94" r="2.15"/><circle cx="603.13" cy="95.28" r="2.15"/><circle cx="599.68" cy="95.73" r="2.15"/><circle cx="596.19" cy="96.34" r="2.15"/><circle cx="592.71" cy="97.09" r="2.15"/><circle cx="589.54" cy="97.71" r="2.15"/><circle cx="586.89" cy="97.97" r="2.15"/><circle cx="584.08" cy="98.49" r="2.15"/><circle cx="580.64" cy="99.76" r="2.15"/><circle cx="577.2" cy="101.2" r="2.15"/><circle cx="574.26" cy="102.27" r="2.15"/><circle cx="571.53" cy="103.26" r="2.15"/><circle cx="569.03" cy="104.12" r="2.15"/><circle cx="566.78" cy="104.81" r="2.15"/><circle cx="564.61" cy="105.5" r="2.15"/><circle cx="562.6" cy="106.1" r="2.15"/><circle cx="560.88" cy="106.41" r="2.15"/><circle cx="559.54" cy="106.28" r="2.15"/><circle cx="558.28" cy="106.07" r="2.15"/><circle cx="557.09" cy="105.8" r="2.15"/><circle cx="555.96" cy="105.47" r="2.15"/><circle cx="554.9" cy="105.03" r="2.15"/><circle cx="553.92" cy="104.48" r="2.15"/><circle cx="552.98" cy="103.86" r="2.15"/><circle cx="552.06" cy="103.21" r="2.15"/><circle cx="551.14" cy="102.54" r="2.15"/><circle cx="550.21" cy="101.88" r="2.15"/><circle cx="549.26" cy="101.26" r="2.15"/><circle cx="548.28" cy="100.67" r="2.15"/><circle cx="547.28" cy="100.12" r="2.15"/><circle cx="546.28" cy="99.58" r="2.15"/><circle cx="545.26" cy="99.06" r="2.15"/><circle cx="544.22" cy="98.58" r="2.15"/><circle cx="543.17" cy="98.15" r="2.15"/><circle cx="542.09" cy="97.77" r="2.15"/><circle cx="541" cy="97.43" r="2.15"/><circle cx="539.89" cy="97.15" r="2.15"/><circle cx="538.78" cy="96.9" r="2.15"/><circle cx="537.66" cy="96.69" r="2.15"/><circle cx="536.53" cy="96.53" r="2.15"/><circle cx="535.39" cy="96.39" r="2.15"/><circle cx="534.25" cy="96.31" r="2.15"/><circle cx="533.09" cy="96.37" r="2.15"/><circle cx="531.91" cy="96.57" r="2.15"/><circle cx="530.73" cy="96.87" r="2.15"/><circle cx="529.56" cy="97.24" r="2.15"/><circle cx="528.41" cy="97.64" r="2.15"/><circle cx="527.27" cy="98.04" r="2.15"/><circle cx="526.15" cy="98.48" r="2.15"/><circle cx="525.04" cy="98.98" r="2.15"/><circle cx="523.95" cy="99.52" r="2.15"/><circle cx="522.88" cy="100.09" r="2.15"/><circle cx="521.83" cy="100.69" r="2.15"/><circle cx="520.8" cy="101.3" r="2.15"/><circle cx="519.79" cy="101.91" r="2.15"/><circle cx="518.81" cy="102.52" r="2.15"/><circle cx="517.84" cy="103.15" r="2.15"/><circle cx="516.9" cy="103.8" r="2.15"/><circle cx="515.98" cy="104.49" r="2.15"/><circle cx="515.09" cy="105.23" r="2.15"/><circle cx="514.22" cy="106.03" r="2.15"/><circle cx="513.39" cy="106.9" r="2.15"/><circle cx="512.6" cy="107.86" r="2.15"/><circle cx="511.86" cy="108.87" r="2.15"/><circle cx="511.14" cy="109.93" r="2.15"/><circle cx="510.47" cy="111.01" r="2.15"/><circle cx="509.83" cy="112.09" r="2.15"/><circle cx="509.22" cy="113.17" r="2.15"/><circle cx="508.65" cy="114.27" r="2.15"/><circle cx="508.12" cy="115.39" r="2.15"/><circle cx="507.63" cy="116.53" r="2.15"/><circle cx="507.17" cy="117.66" r="2.15"/><circle cx="506.75" cy="118.79" r="2.15"/><circle cx="506.35" cy="119.89" r="2.15"/><circle cx="505.97" cy="120.97" r="2.15"/><circle cx="505.62" cy="122.02" r="2.15"/><circle cx="505.28" cy="123.04" r="2.15"/><circle cx="504.98" cy="124.06" r="2.15"/><circle cx="504.7" cy="125.06" r="2.15"/><circle cx="504.45" cy="126.08" r="2.15"/><circle cx="504.24" cy="127.1" r="2.15"/><circle cx="504.07" cy="128.14" r="2.15"/><circle cx="503.95" cy="129.21" r="2.15"/><circle cx="503.9" cy="130.32" r="2.15"/><circle cx="503.91" cy="131.5" r="2.15"/><circle cx="503.9" cy="132.55" r="2.15"/><circle cx="503.88" cy="133.54" r="2.15"/><circle cx="503.86" cy="134.49" r="2.15"/><circle cx="503.86" cy="135.41" r="2.15"/><circle cx="503.88" cy="136.31" r="2.15"/><circle cx="503.91" cy="137.19" r="2.15"/><circle cx="503.97" cy="138.06" r="2.15"/><circle cx="504.04" cy="138.9" r="2.15"/><circle cx="504.12" cy="139.73" r="2.15"/><circle cx="504.22" cy="140.53" r="2.15"/><circle cx="504.34" cy="141.32" r="2.15"/><circle cx="504.48" cy="142.1" r="2.15"/><circle cx="504.65" cy="142.87" r="2.15"/><circle cx="504.85" cy="143.65" r="2.15"/><circle cx="505.18" cy="144.51" r="2.15"/><circle cx="505.6" cy="145.42" r="2.15"/><circle cx="506" cy="146.28" r="2.15"/><circle cx="506.28" cy="146.98" r="2.15"/><circle cx="506.31" cy="147.44" r="2.15"/><circle cx="505.89" cy="147.52" r="2.15"/><circle cx="504.88" cy="147.16" r="2.15"/><circle cx="503.53" cy="146.58" r="2.15"/><circle cx="502.06" cy="145.98" r="2.15"/><circle cx="500.73" cy="145.55" r="2.15"/><circle cx="499.56" cy="145.28" r="2.15"/><circle cx="498.39" cy="145.05" r="2.15"/><circle cx="497.22" cy="144.86" r="2.15"/><circle cx="496.04" cy="144.72" r="2.15"/><circle cx="494.87" cy="144.63" r="2.15"/><circle cx="493.7" cy="144.58" r="2.15"/><circle cx="492.53" cy="144.57" r="2.15"/><circle cx="491.3" cy="144.57" r="2.15"/><circle cx="490.07" cy="144.61" r="2.15"/><circle cx="488.87" cy="144.71" r="2.15"/><circle cx="487.76" cy="144.89" r="2.15"/><circle cx="486.8" cy="145.17" r="2.15"/><circle cx="485.94" cy="145.51" r="2.15"/><circle cx="485.08" cy="145.89" r="2.15"/><circle cx="484.3" cy="146.32" r="2.15"/><circle cx="483.69" cy="146.82" r="2.15"/><circle cx="483.33" cy="147.42" r="2.15"/><circle cx="483.24" cy="148.12" r="2.15"/><circle cx="483.39" cy="148.87" r="2.15"/><circle cx="483.76" cy="149.67" r="2.15"/><circle cx="484.68" cy="150.59" r="2.15"/><circle cx="487.38" cy="151.88" r="2.15"/><circle cx="490.11" cy="153.08" r="2.15"/><circle cx="492.99" cy="154.19" r="2.15"/><circle cx="496.01" cy="155.23" r="2.15"/><circle cx="499.1" cy="156.16" r="2.15"/><circle cx="502.43" cy="157.02" r="2.15"/><circle cx="505.57" cy="157.73" r="2.15"/><circle cx="508.04" cy="158.26" r="2.15"/><circle cx="510.07" cy="158.66" r="2.15"/><circle cx="511.91" cy="158.98" r="2.15"/><circle cx="513.82" cy="159.23" r="2.15"/><circle cx="516.07" cy="159.43" r="2.15"/><circle cx="517.99" cy="159.55" r="2.15"/><circle cx="518.8" cy="159.6" r="2.15"/><circle cx="517.07" cy="159.67" r="2.15"/><circle cx="513.13" cy="159.87" r="2.15"/><circle cx="508.82" cy="160.23" r="2.15"/><circle cx="504.29" cy="160.75" r="2.15"/><circle cx="499.26" cy="161.48" r="2.15"/><circle cx="494.94" cy="162.32" r="2.15"/><circle cx="491.51" cy="163.2" r="2.15"/><circle cx="488.5" cy="164.14" r="2.15"/><circle cx="486.13" cy="165.09" r="2.15"/><circle cx="484.39" cy="166.02" r="2.15"/><circle cx="482.99" cy="166.95" r="2.15"/><circle cx="482.16" cy="167.81" r="2.15"/><circle cx="481.75" cy="168.62" r="2.15"/><circle cx="481.48" cy="169.4" r="2.15"/><circle cx="481.41" cy="170.15" r="2.15"/><circle cx="481.63" cy="170.83" r="2.15"/><circle cx="482.1" cy="171.43" r="2.15"/><circle cx="482.77" cy="171.96" r="2.15"/><circle cx="483.58" cy="172.41" r="2.15"/><circle cx="484.47" cy="172.82" r="2.15"/><circle cx="485.43" cy="173.18" r="2.15"/><circle cx="486.69" cy="173.38" r="2.15"/><circle cx="488.2" cy="173.44" r="2.15"/><circle cx="489.87" cy="173.37" r="2.15"/><circle cx="491.6" cy="173.22" r="2.15"/><circle cx="493.3" cy="173.01" r="2.15"/><circle cx="495.03" cy="172.73" r="2.15"/><circle cx="496.88" cy="172.32" r="2.15"/><circle cx="498.72" cy="171.84" r="2.15"/><circle cx="500.45" cy="171.35" r="2.15"/><circle cx="502.13" cy="170.82" r="2.15"/><circle cx="503.77" cy="170.24" r="2.15"/><circle cx="505.2" cy="169.73" r="2.15"/><circle cx="506.34" cy="169.35" r="2.15"/><circle cx="507.41" cy="168.97" r="2.15"/><circle cx="508.17" cy="168.78" r="2.15"/><circle cx="508.37" cy="168.97" r="2.15"/><circle cx="508.18" cy="169.46" r="2.15"/><circle cx="507.81" cy="170.12" r="2.15"/><circle cx="507.39" cy="170.85" r="2.15"/><circle cx="506.86" cy="171.72" r="2.15"/><circle cx="506.15" cy="172.79" r="2.15"/><circle cx="505.48" cy="173.89" r="2.15"/><circle cx="504.99" cy="174.87" r="2.15"/><circle cx="504.65" cy="175.75" r="2.15"/><circle cx="504.38" cy="176.6" r="2.15"/><circle cx="504.18" cy="177.42" r="2.15"/><circle cx="504.02" cy="178.23" r="2.15"/><circle cx="503.9" cy="179.04" r="2.15"/><circle cx="503.8" cy="179.86" r="2.15"/><circle cx="503.71" cy="180.71" r="2.15"/><circle cx="503.61" cy="181.61" r="2.15"/><circle cx="503.5" cy="182.56" r="2.15"/><circle cx="503.36" cy="183.61" r="2.15"/><circle cx="503.18" cy="184.76" r="2.15"/><circle cx="503" cy="185.99" r="2.15"/><circle cx="502.82" cy="187.28" r="2.15"/><circle cx="502.68" cy="188.6" r="2.15"/><circle cx="502.59" cy="189.91" r="2.15"/><circle cx="502.56" cy="191.19" r="2.15"/><circle cx="502.62" cy="192.4" r="2.15"/><circle cx="502.74" cy="193.56" r="2.15"/><circle cx="502.92" cy="194.69" r="2.15"/><circle cx="503.14" cy="195.81" r="2.15"/><circle cx="503.4" cy="196.91" r="2.15"/><circle cx="503.7" cy="198.01" r="2.15"/><circle cx="504.04" cy="199.09" r="2.15"/><circle cx="504.4" cy="200.19" r="2.15"/><circle cx="504.8" cy="201.28" r="2.15"/><circle cx="505.24" cy="202.35" r="2.15"/><circle cx="505.72" cy="203.4" r="2.15"/><circle cx="506.23" cy="204.43" r="2.15"/><circle cx="506.77" cy="205.49" r="2.15"/><circle cx="507.34" cy="206.55" r="2.15"/><circle cx="507.94" cy="207.59" r="2.15"/><circle cx="508.59" cy="208.58" r="2.15"/><circle cx="509.28" cy="209.49" r="2.15"/><circle cx="510.02" cy="210.3" r="2.15"/><circle cx="510.81" cy="210.98" r="2.15"/><circle cx="511.65" cy="211.51" r="2.15"/><circle cx="512.5" cy="211.99" r="2.15"/><circle cx="513.38" cy="212.41" r="2.15"/><circle cx="514.27" cy="212.79" r="2.15"/><circle cx="515.17" cy="213.12" r="2.15"/><circle cx="516.09" cy="213.43" r="2.15"/><circle cx="517.02" cy="213.71" r="2.15"/><circle cx="517.95" cy="213.96" r="2.15"/><circle cx="518.89" cy="214.2" r="2.15"/><circle cx="519.84" cy="214.44" r="2.15"/><circle cx="520.8" cy="214.67" r="2.15"/><circle cx="521.76" cy="214.87" r="2.15"/><circle cx="522.74" cy="215.05" r="2.15"/><circle cx="523.71" cy="215.2" r="2.15"/><circle cx="524.7" cy="215.33" r="2.15"/><circle cx="525.69" cy="215.45" r="2.15"/><circle cx="526.68" cy="215.55" r="2.15"/><circle cx="527.68" cy="215.65" r="2.15"/><circle cx="528.69" cy="215.75" r="2.15"/><circle cx="529.71" cy="215.85" r="2.15"/><circle cx="530.74" cy="215.97" r="2.15"/><circle cx="531.8" cy="216.17" r="2.15"/><circle cx="532.87" cy="216.39" r="2.15"/><circle cx="533.96" cy="216.61" r="2.15"/><circle cx="535.06" cy="216.81" r="2.15"/><circle cx="536.16" cy="216.94" r="2.15"/><circle cx="537.25" cy="216.98" r="2.15"/><circle cx="538.32" cy="216.9" r="2.15"/><circle cx="539.34" cy="216.67" r="2.15"/><circle cx="540.35" cy="216.37" r="2.15"/><circle cx="541.34" cy="216.04" r="2.15"/><circle cx="542.33" cy="215.69" r="2.15"/><circle cx="543.31" cy="215.32" r="2.15"/><circle cx="544.28" cy="214.93" r="2.15"/><circle cx="545.25" cy="214.52" r="2.15"/><circle cx="546.21" cy="214.1" r="2.15"/><circle cx="547.17" cy="213.67" r="2.15"/><circle cx="548.12" cy="213.23" r="2.15"/><circle cx="549.08" cy="212.79" r="2.15"/><circle cx="550.07" cy="212.4" r="2.15"/><circle cx="551.08" cy="212.05" r="2.15"/><circle cx="552.12" cy="211.73" r="2.15"/><circle cx="553.19" cy="211.43" r="2.15"/><circle cx="554.28" cy="211.16" r="2.15"/><circle cx="555.41" cy="210.91" r="2.15"/><circle cx="556.71" cy="210.88" r="2.15"/><circle cx="558.2" cy="211.08" r="2.15"/><circle cx="559.85" cy="211.42" r="2.15"/><circle cx="561.57" cy="211.79" r="2.15"/><circle cx="563.39" cy="212.2" r="2.15"/><circle cx="565.41" cy="212.77" r="2.15"/><circle cx="567.6" cy="213.44" r="2.15"/><circle cx="569.93" cy="214.17" r="2.15"/><circle cx="572.47" cy="215.01" r="2.15"/><circle cx="575.24" cy="215.97" r="2.15"/><circle cx="578.21" cy="217.01" r="2.15"/><circle cx="581.55" cy="218.26" r="2.15"/><circle cx="585.13" cy="219.59" r="2.15"/><circle cx="588.66" cy="220.7" r="2.15"/><circle cx="592.18" cy="221.65" r="2.15"/><circle cx="595.71" cy="222.46" r="2.15"/><circle cx="599.24" cy="223.12" r="2.15"/><circle cx="602.76" cy="223.63" r="2.15"/><circle cx="606.27" cy="224.01" r="2.15"/><circle cx="609.79" cy="224.25" r="2.15"/><circle cx="613.37" cy="224.42" r="2.15"/><circle cx="616.95" cy="224.45" r="2.15"/><circle cx="620.38" cy="224.27" r="2.15"/><circle cx="623.65" cy="223.87" r="2.15"/><circle cx="626.79" cy="223.28" r="2.15"/><circle cx="629.66" cy="222.45" r="2.15"/><circle cx="632.36" cy="221.44" r="2.15"/><circle cx="634.85" cy="220.24" r="2.15"/><circle cx="636.75" cy="218.68" r="2.15"/><circle cx="638.33" cy="216.92" r="2.15"/><circle cx="639.61" cy="215" r="2.15"/><circle cx="640.32" cy="212.81" r="2.15"/><circle cx="640.46" cy="210.39" r="2.15"/><circle cx="640.37" cy="207.91" r="2.15"/><circle cx="639.79" cy="205.28" r="2.15"/><circle cx="638.82" cy="202.56" r="2.15"/><circle cx="637.47" cy="199.77" r="2.15"/><circle cx="635.51" cy="196.87" r="2.15"/><circle cx="632.51" cy="193.75" r="2.15"/><circle cx="629.11" cy="190.66" r="2.15"/><circle cx="625.48" cy="187.65" r="2.15"/><circle cx="621.13" cy="184.61" r="2.15"/><circle cx="616.72" cy="181.74" r="2.15"/><circle cx="611.27" cy="178.83" r="2.15"/><circle cx="603.75" cy="175.72" r="2.15"/><circle cx="597.12" cy="173.06" r="2.15"/><circle cx="589.61" cy="170.5" r="2.15"/><circle cx="582.91" cy="168.33" r="2.15"/><circle cx="576.45" cy="166.43" r="2.15"/><circle cx="567.64" cy="164.52" r="2.15"/><circle cx="559.15" cy="162.96" r="2.15"/><circle cx="550.73" cy="161.69" r="2.15"/><circle cx="541.77" cy="160.7" r="2.15"/><circle cx="533.29" cy="160.04" r="2.15"/><circle cx="527.8" cy="159.72" r="2.15"/></g>
<rect x="55" y="234.5" width="93.5" height="30" class="lg"/>
<line x1="57.5" y1="241.8" x2="81" y2="241.8" class="bl"/>
<circle cx="68.8" cy="256.8" r="1.85" fill="#ff0000"/>
<text x="82.6" y="246.6" class="lt">COMSOL</text>
<text x="82.6" y="261.3" class="lt">Experimental</text>
<rect x="410" y="234.5" width="93.5" height="30" class="lg"/>
<line x1="412.5" y1="241.8" x2="436" y2="241.8" class="bl"/>
<circle cx="423.8" cy="256.8" r="1.85" fill="#ff0000"/>
<text x="437.6" y="246.6" class="lt">COMSOL</text>
<text x="437.6" y="261.3" class="lt">Experimental</text>
<text x="69.9" y="350.7" class="cap"><tspan font-weight="bold">(a)</tspan> Fundamental mode at 2.00 GHz</text>
<text x="424.9" y="350.7" class="cap"><tspan font-weight="bold">(b)</tspan> Higher order mode at 2.84 GHz</text>
</svg>
</body></html>
